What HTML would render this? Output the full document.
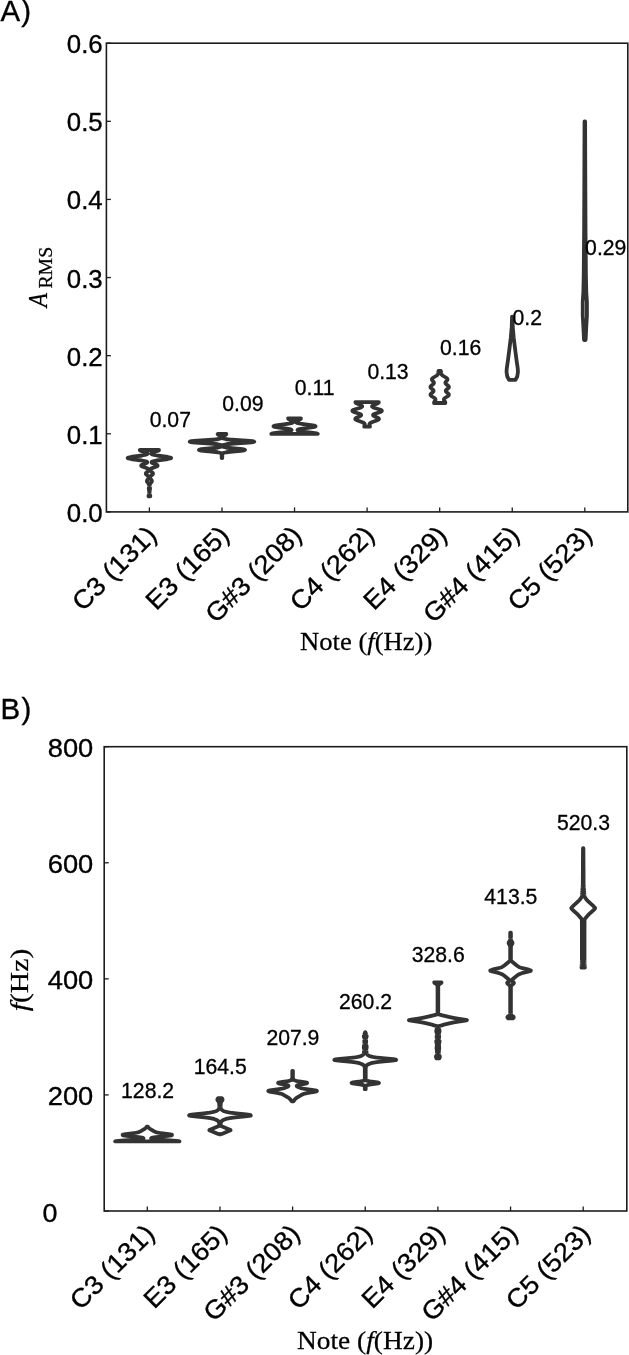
<!DOCTYPE html>
<html lang="en"><head><meta charset="utf-8"><title>Violin plots</title>
<style>
html,body{margin:0;padding:0;background:#fff;}
body{width:629px;height:1355px;position:relative;overflow:hidden;}
svg text{white-space:pre;}
</style></head><body>
<svg width="629" height="1355" viewBox="0 0 629 1355" style="position:absolute;left:0;top:0;filter:blur(0.4px)">
<rect width="100%" height="100%" fill="#fff"/>
<rect x="106.40" y="43.20" width="521.40" height="468.70" fill="none" stroke="#1c1c1c" stroke-width="1.6"/>
<line x1="106.40" y1="511.90" x2="110.90" y2="511.90" stroke="#1c1c1c" stroke-width="1.3"/>
<line x1="106.40" y1="433.78" x2="110.90" y2="433.78" stroke="#1c1c1c" stroke-width="1.3"/>
<line x1="106.40" y1="355.67" x2="110.90" y2="355.67" stroke="#1c1c1c" stroke-width="1.3"/>
<line x1="106.40" y1="277.55" x2="110.90" y2="277.55" stroke="#1c1c1c" stroke-width="1.3"/>
<line x1="106.40" y1="199.43" x2="110.90" y2="199.43" stroke="#1c1c1c" stroke-width="1.3"/>
<line x1="106.40" y1="121.32" x2="110.90" y2="121.32" stroke="#1c1c1c" stroke-width="1.3"/>
<line x1="106.40" y1="43.20" x2="110.90" y2="43.20" stroke="#1c1c1c" stroke-width="1.3"/>
<line x1="149.40" y1="511.90" x2="149.40" y2="507.40" stroke="#1c1c1c" stroke-width="1.3"/>
<line x1="221.97" y1="511.90" x2="221.97" y2="507.40" stroke="#1c1c1c" stroke-width="1.3"/>
<line x1="294.54" y1="511.90" x2="294.54" y2="507.40" stroke="#1c1c1c" stroke-width="1.3"/>
<line x1="367.11" y1="511.90" x2="367.11" y2="507.40" stroke="#1c1c1c" stroke-width="1.3"/>
<line x1="439.68" y1="511.90" x2="439.68" y2="507.40" stroke="#1c1c1c" stroke-width="1.3"/>
<line x1="512.25" y1="511.90" x2="512.25" y2="507.40" stroke="#1c1c1c" stroke-width="1.3"/>
<line x1="584.82" y1="511.90" x2="584.82" y2="507.40" stroke="#1c1c1c" stroke-width="1.3"/>
<rect x="104.20" y="746.70" width="522.60" height="464.30" fill="none" stroke="#1c1c1c" stroke-width="1.6"/>
<line x1="104.20" y1="1211.00" x2="108.70" y2="1211.00" stroke="#1c1c1c" stroke-width="1.3"/>
<line x1="104.20" y1="1094.92" x2="108.70" y2="1094.92" stroke="#1c1c1c" stroke-width="1.3"/>
<line x1="104.20" y1="978.85" x2="108.70" y2="978.85" stroke="#1c1c1c" stroke-width="1.3"/>
<line x1="104.20" y1="862.78" x2="108.70" y2="862.78" stroke="#1c1c1c" stroke-width="1.3"/>
<line x1="104.20" y1="746.70" x2="108.70" y2="746.70" stroke="#1c1c1c" stroke-width="1.3"/>
<line x1="147.30" y1="1211.00" x2="147.30" y2="1206.50" stroke="#1c1c1c" stroke-width="1.3"/>
<line x1="219.95" y1="1211.00" x2="219.95" y2="1206.50" stroke="#1c1c1c" stroke-width="1.3"/>
<line x1="292.60" y1="1211.00" x2="292.60" y2="1206.50" stroke="#1c1c1c" stroke-width="1.3"/>
<line x1="365.25" y1="1211.00" x2="365.25" y2="1206.50" stroke="#1c1c1c" stroke-width="1.3"/>
<line x1="437.90" y1="1211.00" x2="437.90" y2="1206.50" stroke="#1c1c1c" stroke-width="1.3"/>
<line x1="510.55" y1="1211.00" x2="510.55" y2="1206.50" stroke="#1c1c1c" stroke-width="1.3"/>
<line x1="583.20" y1="1211.00" x2="583.20" y2="1206.50" stroke="#1c1c1c" stroke-width="1.3"/>
<text transform="translate(102.70 521.90) scale(0.9670 1)" font-family="'Liberation Sans', Arial, sans-serif" font-size="26.70" text-anchor="end" fill="#000" stroke="#000" stroke-width="0.35">0.0</text>
<text transform="translate(102.70 443.78) scale(0.9670 1)" font-family="'Liberation Sans', Arial, sans-serif" font-size="26.70" text-anchor="end" fill="#000" stroke="#000" stroke-width="0.35">0.1</text>
<text transform="translate(102.70 365.67) scale(0.9670 1)" font-family="'Liberation Sans', Arial, sans-serif" font-size="26.70" text-anchor="end" fill="#000" stroke="#000" stroke-width="0.35">0.2</text>
<text transform="translate(102.70 287.55) scale(0.9670 1)" font-family="'Liberation Sans', Arial, sans-serif" font-size="26.70" text-anchor="end" fill="#000" stroke="#000" stroke-width="0.35">0.3</text>
<text transform="translate(102.70 209.43) scale(0.9670 1)" font-family="'Liberation Sans', Arial, sans-serif" font-size="26.70" text-anchor="end" fill="#000" stroke="#000" stroke-width="0.35">0.4</text>
<text transform="translate(102.70 131.32) scale(0.9670 1)" font-family="'Liberation Sans', Arial, sans-serif" font-size="26.70" text-anchor="end" fill="#000" stroke="#000" stroke-width="0.35">0.5</text>
<text transform="translate(102.70 53.20) scale(0.9670 1)" font-family="'Liberation Sans', Arial, sans-serif" font-size="26.70" text-anchor="end" fill="#000" stroke="#000" stroke-width="0.35">0.6</text>
<text transform="translate(93.30 1105.33) scale(1.0350 1)" font-family="'Liberation Sans', Arial, sans-serif" font-size="26.40" text-anchor="end" fill="#000" stroke="#000" stroke-width="0.35">200</text>
<text transform="translate(93.30 989.25) scale(1.0350 1)" font-family="'Liberation Sans', Arial, sans-serif" font-size="26.40" text-anchor="end" fill="#000" stroke="#000" stroke-width="0.35">400</text>
<text transform="translate(93.30 873.18) scale(1.0350 1)" font-family="'Liberation Sans', Arial, sans-serif" font-size="26.40" text-anchor="end" fill="#000" stroke="#000" stroke-width="0.35">600</text>
<text transform="translate(93.30 757.10) scale(1.0350 1)" font-family="'Liberation Sans', Arial, sans-serif" font-size="26.40" text-anchor="end" fill="#000" stroke="#000" stroke-width="0.35">800</text>
<text transform="translate(42.40 1221.80) scale(1.0200 1)" font-family="'Liberation Sans', Arial, sans-serif" font-size="26.40" text-anchor="start" fill="#000" stroke="#000" stroke-width="0.35">0</text>
<text transform="translate(0.60 21.30)" font-family="'Liberation Sans', Arial, sans-serif" font-size="29.40" text-anchor="start" fill="#000" stroke="#000" stroke-width="0.35" letter-spacing="1.00">A)</text>
<text transform="translate(0.50 718.60)" font-family="'Liberation Sans', Arial, sans-serif" font-size="29.40" text-anchor="start" fill="#000" stroke="#000" stroke-width="0.35" letter-spacing="1.40">B)</text>
<text transform="translate(158.20 536.80) rotate(-45) scale(1.0560 1)" font-family="'Liberation Sans', Arial, sans-serif" font-size="26.00" text-anchor="end" fill="#000" stroke="#000" stroke-width="0.35">C3 (131)</text>
<text transform="translate(230.77 536.80) rotate(-45) scale(1.0560 1)" font-family="'Liberation Sans', Arial, sans-serif" font-size="26.00" text-anchor="end" fill="#000" stroke="#000" stroke-width="0.35">E3 (165)</text>
<text transform="translate(303.34 536.80) rotate(-45) scale(1.0560 1)" font-family="'Liberation Sans', Arial, sans-serif" font-size="26.00" text-anchor="end" fill="#000" stroke="#000" stroke-width="0.35">G#3 (208)</text>
<text transform="translate(375.91 536.80) rotate(-45) scale(1.0560 1)" font-family="'Liberation Sans', Arial, sans-serif" font-size="26.00" text-anchor="end" fill="#000" stroke="#000" stroke-width="0.35">C4 (262)</text>
<text transform="translate(448.48 536.80) rotate(-45) scale(1.0560 1)" font-family="'Liberation Sans', Arial, sans-serif" font-size="26.00" text-anchor="end" fill="#000" stroke="#000" stroke-width="0.35">E4 (329)</text>
<text transform="translate(521.05 536.80) rotate(-45) scale(1.0560 1)" font-family="'Liberation Sans', Arial, sans-serif" font-size="26.00" text-anchor="end" fill="#000" stroke="#000" stroke-width="0.35">G#4 (415)</text>
<text transform="translate(593.62 536.80) rotate(-45) scale(1.0560 1)" font-family="'Liberation Sans', Arial, sans-serif" font-size="26.00" text-anchor="end" fill="#000" stroke="#000" stroke-width="0.35">C5 (523)</text>
<text transform="translate(156.10 1235.40) rotate(-45) scale(1.0560 1)" font-family="'Liberation Sans', Arial, sans-serif" font-size="26.00" text-anchor="end" fill="#000" stroke="#000" stroke-width="0.35">C3 (131)</text>
<text transform="translate(228.75 1235.40) rotate(-45) scale(1.0560 1)" font-family="'Liberation Sans', Arial, sans-serif" font-size="26.00" text-anchor="end" fill="#000" stroke="#000" stroke-width="0.35">E3 (165)</text>
<text transform="translate(301.40 1235.40) rotate(-45) scale(1.0560 1)" font-family="'Liberation Sans', Arial, sans-serif" font-size="26.00" text-anchor="end" fill="#000" stroke="#000" stroke-width="0.35">G#3 (208)</text>
<text transform="translate(374.05 1235.40) rotate(-45) scale(1.0560 1)" font-family="'Liberation Sans', Arial, sans-serif" font-size="26.00" text-anchor="end" fill="#000" stroke="#000" stroke-width="0.35">C4 (262)</text>
<text transform="translate(446.70 1235.40) rotate(-45) scale(1.0560 1)" font-family="'Liberation Sans', Arial, sans-serif" font-size="26.00" text-anchor="end" fill="#000" stroke="#000" stroke-width="0.35">E4 (329)</text>
<text transform="translate(519.35 1235.40) rotate(-45) scale(1.0560 1)" font-family="'Liberation Sans', Arial, sans-serif" font-size="26.00" text-anchor="end" fill="#000" stroke="#000" stroke-width="0.35">G#4 (415)</text>
<text transform="translate(592.00 1235.40) rotate(-45) scale(1.0560 1)" font-family="'Liberation Sans', Arial, sans-serif" font-size="26.00" text-anchor="end" fill="#000" stroke="#000" stroke-width="0.35">C5 (523)</text>
<text transform="translate(366.20 650.40) scale(1.0400 1)" font-family="'Liberation Serif', 'Times New Roman', serif" font-size="25.60" text-anchor="middle" fill="#000" stroke="#000" stroke-width="0.25">Note (<tspan font-style="italic">f</tspan>(Hz))</text>
<text transform="translate(365.10 1348.50) scale(1.0700 1)" font-family="'Liberation Serif', 'Times New Roman', serif" font-size="25.60" text-anchor="middle" fill="#000" stroke="#000" stroke-width="0.25">Note (<tspan font-style="italic">f</tspan>(Hz))</text>
<text transform="translate(47.10 307.20) rotate(-90) scale(0.8600 1)" font-family="'Liberation Serif', 'Times New Roman', serif" font-size="27.00" text-anchor="start" fill="#000" stroke="#000" stroke-width="0.25"><tspan font-style="italic">A</tspan></text>
<text transform="translate(51.80 288.60) rotate(-90) scale(1.0400 1)" font-family="'Liberation Serif', 'Times New Roman', serif" font-size="19.00" text-anchor="start" fill="#000" stroke="#000" stroke-width="0.25">RMS</text>
<text transform="translate(27.60 1011.30) rotate(-90) scale(1.1600 1)" font-family="'Liberation Serif', 'Times New Roman', serif" font-size="25.60" text-anchor="start" fill="#000" stroke="#000" stroke-width="0.25"><tspan font-style="italic">f</tspan>(Hz)</text>
<path d="M159.00 450.00 L158.90 450.25 L158.59 450.50 L158.11 450.75 L157.48 451.00 L156.73 451.25 L155.92 451.50 L155.08 451.75 L154.25 452.00 L153.47 452.25 L152.77 452.50 L152.18 452.75 L151.71 453.00 L151.38 453.25 L151.21 453.50 L151.20 453.75 L151.37 454.00 L151.74 454.25 L152.31 454.50 L153.10 454.75 L154.12 455.00 L155.37 455.25 L156.84 455.50 L158.51 455.75 L160.33 456.00 L162.24 456.25 L164.18 456.50 L166.04 456.75 L167.74 457.00 L169.18 457.25 L170.28 457.50 L170.97 457.75 L171.20 458.00 L170.97 458.25 L170.28 458.50 L169.18 458.75 L167.74 459.00 L166.04 459.25 L164.18 459.50 L162.26 459.75 L160.35 460.00 L158.54 460.25 L156.88 460.50 L155.43 460.75 L154.21 461.00 L153.22 461.25 L152.47 461.50 L151.94 461.75 L151.64 462.00 L151.53 462.25 L151.61 462.50 L151.85 462.75 L152.23 463.00 L152.74 463.25 L153.34 463.50 L154.01 463.75 L154.71 464.00 L155.41 464.25 L156.07 464.50 L156.64 464.75 L157.11 465.00 L157.43 465.25 L157.59 465.50 L157.57 465.75 L157.38 466.00 L157.02 466.25 L156.53 466.50 L155.92 466.75 L155.24 467.00 L154.52 467.25 L153.80 467.50 L153.10 467.75 L152.44 468.00 L151.86 468.25 L151.35 468.50 L150.93 468.75 L150.60 469.00 L150.35 469.25 L150.19 469.50 L150.09 469.75 L150.07 470.00 L150.11 470.25 L150.21 470.50 L150.37 470.75 L150.57 471.00 L150.82 471.25 L151.10 471.50 L151.40 471.75 L151.72 472.00 L152.03 472.25 L152.32 472.50 L152.58 472.75 L152.78 473.00 L152.92 473.25 L152.99 473.50 L152.99 473.75 L152.90 474.00 L152.75 474.25 L152.53 474.50 L152.27 474.75 L151.97 475.00 L151.66 475.25 L151.34 475.50 L151.04 475.75 L150.77 476.00 L150.53 476.25 L150.32 476.50 L150.17 476.75 L150.06 477.00 L150.00 477.25 L149.98 477.50 L150.01 477.75 L150.09 478.00 L150.20 478.25 L150.34 478.50 L150.52 478.75 L150.71 479.00 L150.91 479.25 L151.12 479.50 L151.31 479.75 L151.49 480.00 L151.63 480.25 L151.74 480.50 L151.79 480.75 L151.95 481.00 L151.90 481.25 L151.81 481.50 L151.67 481.75 L151.50 482.00 L151.30 482.25 L151.09 482.50 L150.88 482.75 L150.67 483.00 L150.47 483.25 L150.30 483.50 L150.14 483.75 L150.01 484.00 L149.90 484.25 L149.81 484.50 L149.75 484.75 L149.70 485.00 L149.67 485.25 L149.66 485.50 L149.66 485.75 L149.68 486.00 L149.70 486.25 L149.74 486.50 L149.79 486.75 L149.84 487.00 L149.89 487.25 L149.94 487.50 L149.98 487.75 L150.02 488.00 L150.04 488.25 L150.05 488.50 L150.04 488.75 L150.02 489.00 L149.98 489.25 L149.94 489.50 L149.89 489.75 L149.83 490.00 L149.78 490.25 L149.73 490.50 L149.69 490.75 L149.65 491.00 L149.62 491.25 L149.60 491.50 L149.58 491.75 L149.57 492.00 L149.57 492.25 L149.56 492.50 L149.56 492.75 L149.57 493.00 L149.58 493.25 L149.59 493.50 L149.62 493.75 L149.66 494.00 L149.71 494.25 L149.78 494.50 L149.86 494.75 L149.96 495.00 L150.06 495.25 L150.15 495.50 L150.24 495.75 L150.31 496.00 L150.34 496.25 L148.46 496.25 L148.49 496.00 L148.56 495.75 L148.65 495.50 L148.74 495.25 L148.84 495.00 L148.94 494.75 L149.02 494.50 L149.09 494.25 L149.14 494.00 L149.18 493.75 L149.21 493.50 L149.22 493.25 L149.23 493.00 L149.24 492.75 L149.24 492.50 L149.23 492.25 L149.23 492.00 L149.22 491.75 L149.20 491.50 L149.18 491.25 L149.15 491.00 L149.11 490.75 L149.07 490.50 L149.02 490.25 L148.97 490.00 L148.91 489.75 L148.86 489.50 L148.82 489.25 L148.78 489.00 L148.76 488.75 L148.75 488.50 L148.76 488.25 L148.78 488.00 L148.82 487.75 L148.86 487.50 L148.91 487.25 L148.96 487.00 L149.01 486.75 L149.06 486.50 L149.10 486.25 L149.12 486.00 L149.14 485.75 L149.14 485.50 L149.13 485.25 L149.10 485.00 L149.05 484.75 L148.99 484.50 L148.90 484.25 L148.79 484.00 L148.66 483.75 L148.50 483.50 L148.33 483.25 L148.13 483.00 L147.92 482.75 L147.71 482.50 L147.50 482.25 L147.30 482.00 L147.13 481.75 L146.99 481.50 L146.90 481.25 L146.85 481.00 L147.01 480.75 L147.06 480.50 L147.17 480.25 L147.31 480.00 L147.49 479.75 L147.68 479.50 L147.89 479.25 L148.09 479.00 L148.28 478.75 L148.46 478.50 L148.60 478.25 L148.71 478.00 L148.79 477.75 L148.82 477.50 L148.80 477.25 L148.74 477.00 L148.63 476.75 L148.48 476.50 L148.27 476.25 L148.03 476.00 L147.76 475.75 L147.46 475.50 L147.14 475.25 L146.83 475.00 L146.53 474.75 L146.27 474.50 L146.05 474.25 L145.90 474.00 L145.81 473.75 L145.81 473.50 L145.88 473.25 L146.02 473.00 L146.22 472.75 L146.48 472.50 L146.77 472.25 L147.08 472.00 L147.40 471.75 L147.70 471.50 L147.98 471.25 L148.23 471.00 L148.43 470.75 L148.59 470.50 L148.69 470.25 L148.73 470.00 L148.71 469.75 L148.61 469.50 L148.45 469.25 L148.20 469.00 L147.87 468.75 L147.45 468.50 L146.94 468.25 L146.36 468.00 L145.70 467.75 L145.00 467.50 L144.28 467.25 L143.56 467.00 L142.88 466.75 L142.27 466.50 L141.78 466.25 L141.42 466.00 L141.23 465.75 L141.21 465.50 L141.37 465.25 L141.69 465.00 L142.16 464.75 L142.73 464.50 L143.39 464.25 L144.09 464.00 L144.79 463.75 L145.46 463.50 L146.06 463.25 L146.57 463.00 L146.95 462.75 L147.19 462.50 L147.27 462.25 L147.16 462.00 L146.86 461.75 L146.33 461.50 L145.58 461.25 L144.59 461.00 L143.37 460.75 L141.92 460.50 L140.26 460.25 L138.45 460.00 L136.54 459.75 L134.62 459.50 L132.76 459.25 L131.06 459.00 L129.62 458.75 L128.52 458.50 L127.83 458.25 L127.60 458.00 L127.83 457.75 L128.52 457.50 L129.62 457.25 L131.06 457.00 L132.76 456.75 L134.62 456.50 L136.56 456.25 L138.47 456.00 L140.29 455.75 L141.96 455.50 L143.43 455.25 L144.68 455.00 L145.70 454.75 L146.49 454.50 L147.06 454.25 L147.43 454.00 L147.60 453.75 L147.59 453.50 L147.42 453.25 L147.09 453.00 L146.62 452.75 L146.03 452.50 L145.33 452.25 L144.55 452.00 L143.72 451.75 L142.88 451.50 L142.07 451.25 L141.32 451.00 L140.69 450.75 L140.21 450.50 L139.90 450.25 L139.80 450.00 Z" fill="#fff" stroke="#333333" stroke-width="3.80" stroke-linejoin="round"/>
<path d="M226.37 434.00 L226.29 434.25 L226.05 434.50 L225.68 434.75 L225.21 435.00 L224.70 435.25 L224.18 435.50 L223.70 435.75 L223.27 436.00 L222.91 436.25 L222.63 436.50 L222.43 436.75 L222.29 437.00 L222.22 437.25 L222.22 437.50 L222.31 437.75 L222.50 438.00 L222.84 438.25 L223.40 438.50 L224.24 438.75 L225.46 439.00 L227.14 439.25 L229.34 439.50 L232.09 439.75 L235.34 440.00 L238.97 440.25 L242.78 440.50 L246.49 440.75 L249.78 441.00 L252.33 441.25 L253.88 441.50 L254.25 441.75 L253.39 442.00 L251.42 442.25 L248.54 442.50 L245.04 442.75 L241.25 443.00 L237.49 443.25 L233.99 443.50 L230.93 443.75 L228.40 444.00 L226.41 444.25 L224.93 444.50 L223.87 444.75 L223.15 445.00 L222.69 445.25 L222.43 445.50 L222.31 445.75 L222.30 446.00 L222.42 446.25 L222.67 446.50 L223.09 446.75 L223.73 447.00 L224.65 447.25 L225.90 447.50 L227.53 447.75 L229.55 448.00 L231.90 448.25 L234.51 448.50 L237.20 448.75 L240.08 449.00 L242.31 449.25 L243.98 449.50 L244.91 449.75 L245.00 450.00 L244.23 450.25 L242.70 450.50 L240.56 450.75 L238.03 451.00 L235.34 451.25 L232.71 451.50 L230.29 451.75 L228.21 452.00 L226.50 452.25 L225.17 452.50 L224.18 452.75 L223.48 453.00 L223.01 453.25 L222.71 453.50 L222.52 453.75 L222.40 454.00 L222.34 454.25 L222.31 454.50 L222.29 454.75 L222.28 455.00 L222.27 455.25 L222.27 455.50 L222.27 455.75 L222.27 456.00 L222.27 456.25 L222.27 456.50 L222.27 456.75 L222.27 457.00 L222.27 457.25 L222.27 457.50 L222.27 457.75 L222.27 458.00 L221.67 458.00 L221.67 457.75 L221.67 457.50 L221.67 457.25 L221.67 457.00 L221.67 456.75 L221.67 456.50 L221.67 456.25 L221.67 456.00 L221.67 455.75 L221.67 455.50 L221.67 455.25 L221.66 455.00 L221.65 454.75 L221.63 454.50 L221.60 454.25 L221.54 454.00 L221.42 453.75 L221.23 453.50 L220.93 453.25 L220.46 453.00 L219.76 452.75 L218.77 452.50 L217.44 452.25 L215.73 452.00 L213.65 451.75 L211.23 451.50 L208.60 451.25 L205.91 451.00 L203.38 450.75 L201.24 450.50 L199.71 450.25 L198.94 450.00 L199.03 449.75 L199.96 449.50 L201.63 449.25 L203.86 449.00 L206.74 448.75 L209.43 448.50 L212.04 448.25 L214.39 448.00 L216.41 447.75 L218.04 447.50 L219.29 447.25 L220.21 447.00 L220.85 446.75 L221.27 446.50 L221.52 446.25 L221.64 446.00 L221.63 445.75 L221.51 445.50 L221.25 445.25 L220.79 445.00 L220.07 444.75 L219.01 444.50 L217.53 444.25 L215.54 444.00 L213.01 443.75 L209.95 443.50 L206.45 443.25 L202.69 443.00 L198.90 442.75 L195.40 442.50 L192.52 442.25 L190.55 442.00 L189.69 441.75 L190.06 441.50 L191.61 441.25 L194.16 441.00 L197.45 440.75 L201.16 440.50 L204.97 440.25 L208.60 440.00 L211.85 439.75 L214.60 439.50 L216.80 439.25 L218.48 439.00 L219.70 438.75 L220.54 438.50 L221.10 438.25 L221.44 438.00 L221.63 437.75 L221.72 437.50 L221.72 437.25 L221.65 437.00 L221.51 436.75 L221.31 436.50 L221.03 436.25 L220.67 436.00 L220.24 435.75 L219.76 435.50 L219.24 435.25 L218.73 435.00 L218.26 434.75 L217.89 434.50 L217.65 434.25 L217.57 434.00 Z" fill="#fff" stroke="#333333" stroke-width="3.80" stroke-linejoin="round"/>
<path d="M300.94 418.40 L300.87 418.65 L300.65 418.90 L300.31 419.15 L299.87 419.40 L299.35 419.65 L298.79 419.90 L298.21 420.15 L297.65 420.40 L297.13 420.65 L296.67 420.90 L296.30 421.15 L296.02 421.40 L295.86 421.65 L295.82 421.90 L295.92 422.15 L296.17 422.40 L296.60 422.65 L297.22 422.90 L298.05 423.15 L299.11 423.40 L300.39 423.65 L301.89 423.90 L303.58 424.15 L305.42 424.40 L307.34 424.65 L309.26 424.90 L311.09 425.15 L312.72 425.40 L314.07 425.65 L315.03 425.90 L315.55 426.15 L315.60 426.40 L315.17 426.65 L314.29 426.90 L313.02 427.15 L311.44 427.40 L309.65 427.65 L307.75 427.90 L305.84 428.15 L304.00 428.40 L302.31 428.65 L300.83 428.90 L299.60 429.15 L298.63 429.40 L297.95 429.65 L297.56 429.90 L297.46 430.15 L297.66 430.40 L298.16 430.65 L298.96 430.90 L300.06 431.15 L301.45 431.40 L303.10 431.65 L304.97 431.90 L307.01 432.15 L309.12 432.40 L311.23 432.65 L313.20 432.90 L314.95 433.15 L316.35 433.40 L317.32 433.65 L317.80 433.90 L271.28 433.90 L271.76 433.65 L272.73 433.40 L274.13 433.15 L275.88 432.90 L277.85 432.65 L279.96 432.40 L282.07 432.15 L284.11 431.90 L285.98 431.65 L287.63 431.40 L289.02 431.15 L290.12 430.90 L290.92 430.65 L291.42 430.40 L291.62 430.15 L291.52 429.90 L291.13 429.65 L290.45 429.40 L289.48 429.15 L288.25 428.90 L286.77 428.65 L285.08 428.40 L283.24 428.15 L281.33 427.90 L279.43 427.65 L277.64 427.40 L276.06 427.15 L274.79 426.90 L273.91 426.65 L273.48 426.40 L273.53 426.15 L274.05 425.90 L275.01 425.65 L276.36 425.40 L277.99 425.15 L279.82 424.90 L281.74 424.65 L283.66 424.40 L285.50 424.15 L287.19 423.90 L288.69 423.65 L289.97 423.40 L291.03 423.15 L291.86 422.90 L292.48 422.65 L292.91 422.40 L293.16 422.15 L293.26 421.90 L293.22 421.65 L293.06 421.40 L292.78 421.15 L292.41 420.90 L291.95 420.65 L291.43 420.40 L290.87 420.15 L290.29 419.90 L289.73 419.65 L289.21 419.40 L288.77 419.15 L288.43 418.90 L288.21 418.65 L288.14 418.40 Z" fill="#fff" stroke="#333333" stroke-width="3.80" stroke-linejoin="round"/>
<path d="M378.83 402.20 L378.77 402.45 L378.59 402.70 L378.28 402.95 L377.88 403.20 L377.38 403.45 L376.81 403.70 L376.19 403.95 L375.54 404.20 L374.89 404.45 L374.26 404.70 L373.67 404.95 L373.15 405.20 L372.71 405.45 L372.36 405.70 L372.13 405.95 L372.02 406.20 L372.04 406.45 L372.19 406.70 L372.47 406.95 L372.87 407.20 L373.40 407.45 L374.02 407.70 L374.74 407.95 L375.53 408.20 L376.37 408.45 L377.23 408.70 L378.08 408.95 L378.91 409.20 L379.68 409.45 L380.36 409.70 L380.94 409.95 L381.39 410.20 L381.69 410.45 L381.84 410.70 L381.83 410.95 L381.66 411.20 L381.34 411.45 L380.88 411.70 L380.30 411.95 L379.62 412.20 L378.87 412.45 L378.08 412.70 L377.26 412.95 L376.46 413.20 L375.70 413.45 L375.00 413.70 L374.38 413.95 L373.87 414.20 L373.47 414.45 L373.21 414.70 L373.07 414.95 L373.07 415.20 L373.20 415.45 L373.45 415.70 L373.81 415.95 L374.26 416.20 L374.78 416.45 L375.35 416.70 L375.95 416.95 L376.55 417.20 L377.13 417.45 L377.67 417.70 L378.13 417.95 L378.50 418.20 L378.77 418.45 L378.93 418.70 L378.95 418.95 L378.85 419.20 L378.63 419.45 L378.28 419.70 L377.83 419.95 L377.29 420.20 L376.67 420.45 L376.00 420.70 L375.29 420.95 L374.57 421.20 L373.85 421.45 L373.15 421.70 L372.50 421.95 L371.89 422.20 L371.35 422.45 L370.87 422.70 L370.46 422.95 L370.13 423.20 L369.87 423.45 L369.68 423.70 L369.56 423.95 L369.48 424.20 L369.46 424.45 L369.48 424.70 L369.52 424.95 L369.59 425.20 L369.67 425.45 L369.75 425.70 L369.82 425.95 L369.88 426.20 L369.93 426.45 L369.95 426.70 L364.27 426.70 L364.29 426.45 L364.34 426.20 L364.40 425.95 L364.47 425.70 L364.55 425.45 L364.63 425.20 L364.70 424.95 L364.74 424.70 L364.76 424.45 L364.74 424.20 L364.66 423.95 L364.54 423.70 L364.35 423.45 L364.09 423.20 L363.76 422.95 L363.35 422.70 L362.87 422.45 L362.33 422.20 L361.72 421.95 L361.07 421.70 L360.37 421.45 L359.65 421.20 L358.93 420.95 L358.22 420.70 L357.55 420.45 L356.93 420.20 L356.39 419.95 L355.94 419.70 L355.59 419.45 L355.37 419.20 L355.27 418.95 L355.29 418.70 L355.45 418.45 L355.72 418.20 L356.09 417.95 L356.55 417.70 L357.09 417.45 L357.67 417.20 L358.27 416.95 L358.87 416.70 L359.44 416.45 L359.96 416.20 L360.41 415.95 L360.77 415.70 L361.02 415.45 L361.15 415.20 L361.15 414.95 L361.01 414.70 L360.75 414.45 L360.35 414.20 L359.84 413.95 L359.22 413.70 L358.52 413.45 L357.76 413.20 L356.96 412.95 L356.14 412.70 L355.35 412.45 L354.60 412.20 L353.92 411.95 L353.34 411.70 L352.88 411.45 L352.56 411.20 L352.39 410.95 L352.38 410.70 L352.53 410.45 L352.83 410.20 L353.28 409.95 L353.86 409.70 L354.54 409.45 L355.31 409.20 L356.14 408.95 L356.99 408.70 L357.85 408.45 L358.69 408.20 L359.48 407.95 L360.20 407.70 L360.82 407.45 L361.35 407.20 L361.75 406.95 L362.03 406.70 L362.18 406.45 L362.20 406.20 L362.09 405.95 L361.86 405.70 L361.51 405.45 L361.07 405.20 L360.55 404.95 L359.96 404.70 L359.33 404.45 L358.68 404.20 L358.03 403.95 L357.41 403.70 L356.84 403.45 L356.34 403.20 L355.94 402.95 L355.63 402.70 L355.45 402.45 L355.39 402.20 Z" fill="#fff" stroke="#333333" stroke-width="3.80" stroke-linejoin="round"/>
<path d="M440.94 371.00 L440.95 371.25 L440.96 371.50 L440.96 371.75 L440.97 372.00 L440.97 372.25 L440.98 372.50 L441.00 372.75 L441.03 373.00 L441.08 373.25 L441.14 373.50 L441.23 373.75 L441.34 374.00 L441.48 374.25 L441.66 374.50 L441.86 374.75 L442.10 375.00 L442.38 375.25 L442.68 375.50 L443.02 375.75 L443.38 376.00 L443.77 376.25 L444.17 376.50 L444.58 376.75 L444.99 377.00 L445.40 377.25 L445.79 377.50 L446.15 377.75 L446.48 378.00 L446.77 378.25 L447.02 378.50 L447.21 378.75 L447.34 379.00 L447.41 379.25 L447.43 379.50 L447.39 379.75 L447.30 380.00 L447.16 380.25 L446.99 380.50 L446.78 380.75 L446.56 381.00 L446.33 381.25 L446.11 381.50 L445.90 381.75 L445.72 382.00 L445.58 382.25 L445.47 382.50 L445.42 382.75 L445.43 383.00 L445.49 383.25 L445.61 383.50 L445.78 383.75 L446.00 384.00 L446.26 384.25 L446.56 384.50 L446.88 384.75 L447.21 385.00 L447.54 385.25 L447.86 385.50 L448.15 385.75 L448.41 386.00 L448.62 386.25 L448.78 386.50 L448.88 386.75 L448.91 387.00 L448.88 387.25 L448.79 387.50 L448.64 387.75 L448.43 388.00 L448.18 388.25 L447.90 388.50 L447.59 388.75 L447.28 389.00 L446.97 389.25 L446.67 389.50 L446.40 389.75 L446.17 390.00 L445.99 390.25 L445.86 390.50 L445.79 390.75 L445.78 391.00 L445.84 391.25 L445.95 391.50 L446.13 391.75 L446.35 392.00 L446.61 392.25 L446.90 392.50 L447.21 392.75 L447.52 393.00 L447.83 393.25 L448.11 393.50 L448.36 393.75 L448.57 394.00 L448.73 394.25 L448.82 394.50 L448.85 394.75 L448.81 395.00 L448.70 395.25 L448.53 395.50 L448.29 395.75 L448.00 396.00 L447.67 396.25 L447.30 396.50 L446.90 396.75 L446.50 397.00 L446.09 397.25 L445.69 397.50 L445.31 397.75 L444.97 398.00 L444.66 398.25 L444.40 398.50 L444.19 398.75 L444.04 399.00 L443.94 399.25 L443.89 399.50 L443.89 399.75 L443.94 400.00 L444.03 400.25 L444.16 400.50 L444.31 400.75 L444.48 401.00 L444.65 401.25 L444.82 401.50 L444.98 401.75 L445.12 402.00 L445.23 402.25 L445.31 402.50 L445.36 402.75 L445.36 403.00 L434.00 403.00 L434.00 402.75 L434.05 402.50 L434.13 402.25 L434.24 402.00 L434.38 401.75 L434.54 401.50 L434.71 401.25 L434.88 401.00 L435.05 400.75 L435.20 400.50 L435.33 400.25 L435.42 400.00 L435.47 399.75 L435.47 399.50 L435.42 399.25 L435.32 399.00 L435.17 398.75 L434.96 398.50 L434.70 398.25 L434.39 398.00 L434.05 397.75 L433.67 397.50 L433.27 397.25 L432.86 397.00 L432.46 396.75 L432.06 396.50 L431.69 396.25 L431.36 396.00 L431.07 395.75 L430.83 395.50 L430.66 395.25 L430.55 395.00 L430.51 394.75 L430.54 394.50 L430.63 394.25 L430.79 394.00 L431.00 393.75 L431.25 393.50 L431.53 393.25 L431.84 393.00 L432.15 392.75 L432.46 392.50 L432.75 392.25 L433.01 392.00 L433.23 391.75 L433.41 391.50 L433.52 391.25 L433.58 391.00 L433.57 390.75 L433.50 390.50 L433.37 390.25 L433.19 390.00 L432.96 389.75 L432.69 389.50 L432.39 389.25 L432.08 389.00 L431.77 388.75 L431.46 388.50 L431.18 388.25 L430.93 388.00 L430.72 387.75 L430.57 387.50 L430.48 387.25 L430.45 387.00 L430.48 386.75 L430.58 386.50 L430.74 386.25 L430.95 386.00 L431.21 385.75 L431.50 385.50 L431.82 385.25 L432.15 385.00 L432.48 384.75 L432.80 384.50 L433.10 384.25 L433.36 384.00 L433.58 383.75 L433.75 383.50 L433.87 383.25 L433.93 383.00 L433.94 382.75 L433.89 382.50 L433.78 382.25 L433.64 382.00 L433.46 381.75 L433.25 381.50 L433.03 381.25 L432.80 381.00 L432.58 380.75 L432.37 380.50 L432.20 380.25 L432.06 380.00 L431.97 379.75 L431.93 379.50 L431.95 379.25 L432.02 379.00 L432.15 378.75 L432.34 378.50 L432.59 378.25 L432.88 378.00 L433.21 377.75 L433.57 377.50 L433.96 377.25 L434.37 377.00 L434.78 376.75 L435.19 376.50 L435.59 376.25 L435.98 376.00 L436.34 375.75 L436.68 375.50 L436.98 375.25 L437.26 375.00 L437.50 374.75 L437.70 374.50 L437.88 374.25 L438.02 374.00 L438.13 373.75 L438.22 373.50 L438.28 373.25 L438.33 373.00 L438.36 372.75 L438.38 372.50 L438.39 372.25 L438.39 372.00 L438.40 371.75 L438.40 371.50 L438.41 371.25 L438.42 371.00 Z" fill="#fff" stroke="#333333" stroke-width="3.80" stroke-linejoin="round"/>
<path d="M512.45 316.60 L512.75 327.00 L513.75 338.00 L515.15 349.50 L516.65 361.00 L517.75 368.50 L517.95 372.00 L517.25 376.50 L515.45 379.80 L509.05 379.80 L507.25 376.50 L506.55 372.00 L506.75 368.50 L507.85 361.00 L509.35 349.50 L510.75 338.00 L511.75 327.00 L512.05 316.60 Z" fill="#fff" stroke="#333333" stroke-width="3.80" stroke-linejoin="round"/>
<path d="M585.12 121.50 L585.27 170.00 L585.52 230.00 L585.92 275.00 L586.32 293.00 L586.92 302.00 L586.92 316.00 L586.42 324.00 L586.02 332.00 L585.62 340.00 L584.02 340.00 L583.62 332.00 L583.22 324.00 L582.72 316.00 L582.72 302.00 L583.32 293.00 L583.72 275.00 L584.12 230.00 L584.37 170.00 L584.52 121.50 Z" fill="#fff" stroke="#333333" stroke-width="3.80" stroke-linejoin="round"/>
<path d="M147.82 1126.60 L147.95 1126.85 L148.11 1127.10 L148.29 1127.35 L148.51 1127.60 L148.76 1127.85 L149.04 1128.10 L149.35 1128.35 L149.68 1128.60 L150.05 1128.85 L150.43 1129.10 L150.84 1129.35 L151.25 1129.60 L151.67 1129.85 L152.09 1130.10 L152.50 1130.35 L152.91 1130.60 L153.31 1130.85 L153.73 1131.10 L154.17 1131.35 L154.67 1131.60 L155.26 1131.85 L155.99 1132.10 L156.90 1132.35 L158.03 1132.60 L159.40 1132.85 L161.01 1133.10 L162.83 1133.35 L164.78 1133.60 L166.76 1133.85 L168.62 1134.10 L170.21 1134.35 L171.37 1134.60 L171.97 1134.85 L171.92 1135.10 L171.21 1135.35 L169.87 1135.60 L167.99 1135.85 L165.71 1136.10 L163.21 1136.35 L160.66 1136.60 L158.21 1136.85 L156.00 1137.10 L154.12 1137.35 L152.65 1137.60 L151.64 1137.85 L151.11 1138.10 L151.10 1138.35 L151.63 1138.60 L152.73 1138.85 L154.42 1139.10 L156.69 1139.35 L159.50 1139.60 L162.75 1139.85 L166.28 1140.10 L169.88 1140.35 L173.26 1140.60 L176.17 1140.85 L178.32 1141.10 L179.50 1141.35 L115.10 1141.35 L116.28 1141.10 L118.43 1140.85 L121.34 1140.60 L124.72 1140.35 L128.32 1140.10 L131.85 1139.85 L135.10 1139.60 L137.91 1139.35 L140.18 1139.10 L141.87 1138.85 L142.97 1138.60 L143.50 1138.35 L143.49 1138.10 L142.96 1137.85 L141.95 1137.60 L140.48 1137.35 L138.60 1137.10 L136.39 1136.85 L133.94 1136.60 L131.39 1136.35 L128.89 1136.10 L126.61 1135.85 L124.73 1135.60 L123.39 1135.35 L122.68 1135.10 L122.63 1134.85 L123.23 1134.60 L124.39 1134.35 L125.98 1134.10 L127.84 1133.85 L129.82 1133.60 L131.77 1133.35 L133.59 1133.10 L135.20 1132.85 L136.57 1132.60 L137.70 1132.35 L138.61 1132.10 L139.34 1131.85 L139.93 1131.60 L140.43 1131.35 L140.87 1131.10 L141.29 1130.85 L141.69 1130.60 L142.10 1130.35 L142.51 1130.10 L142.93 1129.85 L143.35 1129.60 L143.76 1129.35 L144.17 1129.10 L144.55 1128.85 L144.92 1128.60 L145.25 1128.35 L145.56 1128.10 L145.84 1127.85 L146.09 1127.60 L146.31 1127.35 L146.49 1127.10 L146.65 1126.85 L146.78 1126.60 Z" fill="#fff" stroke="#333333" stroke-width="3.80" stroke-linejoin="round"/>
<path d="M221.88 1098.20 L222.07 1098.45 L222.24 1098.70 L222.38 1098.95 L222.48 1099.20 L222.54 1099.45 L222.55 1099.70 L222.50 1099.95 L222.40 1100.20 L222.27 1100.45 L222.10 1100.70 L221.92 1100.95 L221.73 1101.20 L221.54 1101.45 L221.36 1101.70 L221.21 1101.95 L221.07 1102.20 L220.96 1102.45 L220.87 1102.70 L220.81 1102.95 L220.76 1103.20 L220.72 1103.45 L220.70 1103.70 L220.68 1103.95 L220.67 1104.20 L220.66 1104.45 L220.66 1104.70 L220.66 1104.95 L220.66 1105.20 L220.66 1105.45 L220.66 1105.70 L220.66 1105.95 L220.67 1106.20 L220.67 1106.45 L220.68 1106.70 L220.70 1106.95 L220.72 1107.20 L220.74 1107.45 L220.77 1107.70 L220.82 1107.95 L220.87 1108.20 L220.95 1108.45 L221.04 1108.70 L221.16 1108.95 L221.31 1109.20 L221.49 1109.45 L221.71 1109.70 L221.97 1109.95 L222.29 1110.20 L222.66 1110.45 L223.10 1110.70 L223.61 1110.95 L224.20 1111.20 L224.88 1111.45 L225.68 1111.70 L226.60 1111.95 L227.68 1112.20 L228.95 1112.45 L230.43 1112.70 L232.14 1112.95 L234.11 1113.20 L236.32 1113.45 L238.72 1113.70 L241.24 1113.95 L243.75 1114.20 L246.11 1114.45 L248.14 1114.70 L249.69 1114.95 L250.62 1115.20 L250.84 1115.45 L250.33 1115.70 L249.14 1115.95 L247.38 1116.20 L245.20 1116.45 L242.76 1116.70 L240.23 1116.95 L237.74 1117.20 L235.41 1117.45 L233.30 1117.70 L231.43 1117.95 L229.81 1118.20 L228.42 1118.45 L227.23 1118.70 L226.22 1118.95 L225.35 1119.20 L224.60 1119.45 L223.95 1119.70 L223.40 1119.95 L222.92 1120.20 L222.50 1120.45 L222.15 1120.70 L221.86 1120.95 L221.61 1121.20 L221.41 1121.45 L221.24 1121.70 L221.11 1121.95 L221.00 1122.20 L220.92 1122.45 L220.85 1122.70 L220.80 1122.95 L220.76 1123.20 L220.73 1123.45 L220.71 1123.70 L220.69 1123.95 L220.68 1124.20 L220.67 1124.45 L220.66 1124.70 L220.66 1124.95 L220.66 1125.20 L220.65 1125.45 L220.65 1125.70 L221.01 1125.95 L221.60 1126.20 L222.19 1126.45 L222.79 1126.70 L223.38 1126.95 L223.97 1127.20 L224.56 1127.45 L225.16 1127.70 L225.75 1127.95 L226.34 1128.20 L226.94 1128.45 L227.53 1128.70 L228.12 1128.95 L228.72 1129.20 L229.31 1129.45 L229.90 1129.70 L230.49 1129.95 L230.61 1130.20 L230.02 1130.45 L229.43 1130.70 L228.83 1130.95 L228.24 1131.20 L227.65 1131.45 L227.05 1131.70 L226.46 1131.95 L225.87 1132.20 L225.28 1132.45 L224.68 1132.70 L224.09 1132.95 L223.50 1133.20 L222.90 1133.45 L222.31 1133.70 L221.72 1133.95 L220.42 1134.20 L219.95 1134.45 L219.95 1134.45 L219.48 1134.20 L218.18 1133.95 L217.59 1133.70 L217.00 1133.45 L216.40 1133.20 L215.81 1132.95 L215.22 1132.70 L214.62 1132.45 L214.03 1132.20 L213.44 1131.95 L212.85 1131.70 L212.25 1131.45 L211.66 1131.20 L211.07 1130.95 L210.47 1130.70 L209.88 1130.45 L209.29 1130.20 L209.41 1129.95 L210.00 1129.70 L210.59 1129.45 L211.18 1129.20 L211.78 1128.95 L212.37 1128.70 L212.96 1128.45 L213.56 1128.20 L214.15 1127.95 L214.74 1127.70 L215.34 1127.45 L215.93 1127.20 L216.52 1126.95 L217.11 1126.70 L217.71 1126.45 L218.30 1126.20 L218.89 1125.95 L219.25 1125.70 L219.25 1125.45 L219.24 1125.20 L219.24 1124.95 L219.24 1124.70 L219.23 1124.45 L219.22 1124.20 L219.21 1123.95 L219.19 1123.70 L219.17 1123.45 L219.14 1123.20 L219.10 1122.95 L219.05 1122.70 L218.98 1122.45 L218.90 1122.20 L218.79 1121.95 L218.66 1121.70 L218.49 1121.45 L218.29 1121.20 L218.04 1120.95 L217.75 1120.70 L217.40 1120.45 L216.98 1120.20 L216.50 1119.95 L215.95 1119.70 L215.30 1119.45 L214.55 1119.20 L213.68 1118.95 L212.67 1118.70 L211.48 1118.45 L210.09 1118.20 L208.47 1117.95 L206.60 1117.70 L204.49 1117.45 L202.16 1117.20 L199.67 1116.95 L197.14 1116.70 L194.70 1116.45 L192.52 1116.20 L190.76 1115.95 L189.57 1115.70 L189.06 1115.45 L189.28 1115.20 L190.21 1114.95 L191.76 1114.70 L193.79 1114.45 L196.15 1114.20 L198.66 1113.95 L201.18 1113.70 L203.58 1113.45 L205.79 1113.20 L207.76 1112.95 L209.47 1112.70 L210.95 1112.45 L212.22 1112.20 L213.30 1111.95 L214.22 1111.70 L215.02 1111.45 L215.70 1111.20 L216.29 1110.95 L216.80 1110.70 L217.24 1110.45 L217.61 1110.20 L217.93 1109.95 L218.19 1109.70 L218.41 1109.45 L218.59 1109.20 L218.74 1108.95 L218.86 1108.70 L218.95 1108.45 L219.03 1108.20 L219.08 1107.95 L219.13 1107.70 L219.16 1107.45 L219.18 1107.20 L219.20 1106.95 L219.22 1106.70 L219.23 1106.45 L219.23 1106.20 L219.24 1105.95 L219.24 1105.70 L219.24 1105.45 L219.24 1105.20 L219.24 1104.95 L219.24 1104.70 L219.24 1104.45 L219.23 1104.20 L219.22 1103.95 L219.20 1103.70 L219.18 1103.45 L219.14 1103.20 L219.09 1102.95 L219.03 1102.70 L218.94 1102.45 L218.83 1102.20 L218.69 1101.95 L218.54 1101.70 L218.36 1101.45 L218.17 1101.20 L217.98 1100.95 L217.80 1100.70 L217.63 1100.45 L217.50 1100.20 L217.40 1099.95 L217.35 1099.70 L217.36 1099.45 L217.42 1099.20 L217.52 1098.95 L217.66 1098.70 L217.83 1098.45 L218.02 1098.20 Z" fill="#fff" stroke="#333333" stroke-width="3.80" stroke-linejoin="round"/>
<path d="M292.90 1070.80 L292.90 1071.05 L292.90 1071.30 L292.90 1071.55 L292.90 1071.80 L292.90 1072.05 L292.90 1072.30 L292.90 1072.55 L292.90 1072.80 L292.90 1073.05 L292.90 1073.30 L292.90 1073.55 L292.90 1073.80 L292.90 1074.05 L292.90 1074.30 L292.90 1074.55 L292.90 1074.80 L292.90 1075.05 L292.90 1075.30 L292.90 1075.55 L292.90 1075.80 L292.90 1076.05 L292.90 1076.30 L292.90 1076.55 L292.90 1076.80 L292.90 1077.05 L292.90 1077.30 L292.90 1077.55 L292.91 1077.80 L292.91 1078.05 L292.92 1078.30 L292.94 1078.55 L292.97 1078.80 L293.03 1079.05 L293.13 1079.30 L293.30 1079.55 L293.56 1079.80 L293.96 1080.05 L294.53 1080.30 L295.31 1080.55 L296.34 1080.80 L297.60 1081.05 L299.10 1081.30 L300.74 1081.55 L302.45 1081.80 L304.07 1082.05 L305.47 1082.30 L306.50 1082.55 L307.06 1082.80 L307.10 1083.05 L306.61 1083.30 L305.68 1083.55 L304.41 1083.80 L302.96 1084.05 L301.48 1084.30 L300.09 1084.55 L298.90 1084.80 L297.96 1085.05 L297.30 1085.30 L296.89 1085.55 L296.73 1085.80 L296.76 1086.05 L296.95 1086.30 L297.27 1086.55 L297.68 1086.80 L298.18 1087.05 L298.76 1087.30 L299.42 1087.55 L300.19 1087.80 L301.08 1088.05 L302.13 1088.30 L303.35 1088.55 L304.77 1088.80 L306.38 1089.05 L308.15 1089.30 L310.02 1089.55 L311.89 1089.80 L313.64 1090.05 L315.13 1090.30 L316.24 1090.55 L316.86 1090.80 L316.95 1091.05 L316.50 1091.30 L315.57 1091.55 L314.30 1091.80 L312.81 1092.05 L311.23 1092.30 L309.67 1092.55 L308.22 1092.80 L306.93 1093.05 L305.81 1093.30 L304.87 1093.55 L304.08 1093.80 L303.40 1094.05 L302.81 1094.30 L302.28 1094.55 L301.78 1094.80 L301.31 1095.05 L300.85 1095.30 L300.40 1095.55 L299.95 1095.80 L299.51 1096.05 L299.08 1096.30 L298.65 1096.55 L298.24 1096.80 L297.84 1097.05 L297.45 1097.30 L297.08 1097.55 L296.72 1097.80 L296.38 1098.05 L296.06 1098.30 L295.76 1098.55 L295.48 1098.80 L295.22 1099.05 L294.98 1099.30 L294.76 1099.55 L294.55 1099.80 L294.36 1100.05 L294.19 1100.30 L294.04 1100.55 L293.90 1100.80 L293.77 1101.05 L293.66 1101.30 L291.54 1101.30 L291.43 1101.05 L291.30 1100.80 L291.16 1100.55 L291.01 1100.30 L290.84 1100.05 L290.65 1099.80 L290.44 1099.55 L290.22 1099.30 L289.98 1099.05 L289.72 1098.80 L289.44 1098.55 L289.14 1098.30 L288.82 1098.05 L288.48 1097.80 L288.12 1097.55 L287.75 1097.30 L287.36 1097.05 L286.96 1096.80 L286.55 1096.55 L286.12 1096.30 L285.69 1096.05 L285.25 1095.80 L284.80 1095.55 L284.35 1095.30 L283.89 1095.05 L283.42 1094.80 L282.92 1094.55 L282.39 1094.30 L281.80 1094.05 L281.12 1093.80 L280.33 1093.55 L279.39 1093.30 L278.27 1093.05 L276.98 1092.80 L275.53 1092.55 L273.97 1092.30 L272.39 1092.05 L270.90 1091.80 L269.63 1091.55 L268.70 1091.30 L268.25 1091.05 L268.34 1090.80 L268.96 1090.55 L270.07 1090.30 L271.56 1090.05 L273.31 1089.80 L275.18 1089.55 L277.05 1089.30 L278.82 1089.05 L280.43 1088.80 L281.85 1088.55 L283.07 1088.30 L284.12 1088.05 L285.01 1087.80 L285.78 1087.55 L286.44 1087.30 L287.02 1087.05 L287.52 1086.80 L287.93 1086.55 L288.25 1086.30 L288.44 1086.05 L288.47 1085.80 L288.31 1085.55 L287.90 1085.30 L287.24 1085.05 L286.30 1084.80 L285.11 1084.55 L283.72 1084.30 L282.24 1084.05 L280.79 1083.80 L279.52 1083.55 L278.59 1083.30 L278.10 1083.05 L278.14 1082.80 L278.70 1082.55 L279.73 1082.30 L281.13 1082.05 L282.75 1081.80 L284.46 1081.55 L286.10 1081.30 L287.60 1081.05 L288.86 1080.80 L289.89 1080.55 L290.67 1080.30 L291.24 1080.05 L291.64 1079.80 L291.90 1079.55 L292.07 1079.30 L292.17 1079.05 L292.23 1078.80 L292.26 1078.55 L292.28 1078.30 L292.29 1078.05 L292.29 1077.80 L292.30 1077.55 L292.30 1077.30 L292.30 1077.05 L292.30 1076.80 L292.30 1076.55 L292.30 1076.30 L292.30 1076.05 L292.30 1075.80 L292.30 1075.55 L292.30 1075.30 L292.30 1075.05 L292.30 1074.80 L292.30 1074.55 L292.30 1074.30 L292.30 1074.05 L292.30 1073.80 L292.30 1073.55 L292.30 1073.30 L292.30 1073.05 L292.30 1072.80 L292.30 1072.55 L292.30 1072.30 L292.30 1072.05 L292.30 1071.80 L292.30 1071.55 L292.30 1071.30 L292.30 1071.05 L292.30 1070.80 Z" fill="#fff" stroke="#333333" stroke-width="3.80" stroke-linejoin="round"/>
<path d="M365.47 1032.20 L365.51 1032.45 L365.55 1032.70 L365.57 1032.95 L365.58 1033.20 L365.58 1033.45 L365.98 1033.70 L366.00 1033.95 L366.02 1034.20 L366.08 1034.45 L366.15 1034.70 L366.25 1034.95 L366.36 1035.20 L366.48 1035.45 L366.58 1035.70 L366.66 1035.95 L366.70 1036.20 L366.70 1036.45 L366.65 1036.70 L366.58 1036.95 L366.47 1037.20 L366.36 1037.45 L366.24 1037.70 L366.13 1037.95 L366.04 1038.20 L365.96 1038.45 L365.92 1038.70 L365.89 1038.95 L365.89 1039.20 L365.90 1039.45 L365.93 1039.70 L365.97 1039.95 L366.02 1040.20 L366.06 1040.45 L366.11 1040.70 L366.15 1040.95 L366.18 1041.20 L366.19 1041.45 L366.19 1041.70 L366.18 1041.95 L366.16 1042.20 L366.13 1042.45 L366.10 1042.70 L366.07 1042.95 L366.04 1043.20 L366.03 1043.45 L366.02 1043.70 L366.03 1043.95 L366.06 1044.20 L366.10 1044.45 L366.15 1044.70 L366.22 1044.95 L366.29 1045.20 L366.37 1045.45 L366.44 1045.70 L366.52 1045.95 L366.58 1046.20 L366.63 1046.45 L366.67 1046.70 L366.69 1046.95 L366.69 1047.20 L366.67 1047.45 L366.63 1047.70 L366.58 1047.95 L366.52 1048.20 L366.46 1048.45 L366.40 1048.70 L366.34 1048.95 L366.29 1049.20 L366.26 1049.45 L366.24 1049.70 L366.24 1049.95 L366.25 1050.20 L366.28 1050.45 L366.32 1050.70 L366.37 1050.95 L366.42 1051.20 L366.47 1051.45 L366.51 1051.70 L366.54 1051.95 L366.56 1052.20 L366.57 1052.45 L366.58 1052.70 L366.58 1052.95 L366.60 1053.20 L366.64 1053.45 L366.70 1053.70 L366.80 1053.95 L366.94 1054.20 L367.13 1054.45 L367.38 1054.70 L367.68 1054.95 L368.05 1055.20 L368.49 1055.45 L369.01 1055.70 L369.61 1055.95 L369.96 1056.20 L370.78 1056.45 L371.74 1056.70 L372.87 1056.95 L374.22 1057.20 L375.83 1057.45 L377.74 1057.70 L379.94 1057.95 L382.44 1058.20 L385.14 1058.45 L387.92 1058.70 L390.61 1058.95 L392.98 1059.20 L394.81 1059.45 L395.92 1059.70 L396.18 1059.95 L395.57 1060.20 L394.16 1060.45 L392.08 1060.70 L389.56 1060.95 L386.81 1061.20 L384.04 1061.45 L381.41 1061.70 L379.02 1061.95 L376.94 1062.20 L375.15 1062.45 L373.65 1062.70 L372.39 1062.95 L371.33 1063.20 L370.43 1063.45 L369.67 1063.70 L369.01 1063.95 L368.44 1064.20 L367.95 1064.45 L367.53 1064.70 L367.18 1064.95 L366.88 1065.20 L366.63 1065.45 L366.43 1065.70 L366.26 1065.95 L366.13 1066.20 L366.03 1066.45 L365.94 1066.70 L365.88 1066.95 L365.83 1067.20 L365.80 1067.45 L365.77 1067.70 L365.75 1067.95 L365.73 1068.20 L365.72 1068.45 L365.72 1068.70 L365.71 1068.95 L365.71 1069.20 L365.70 1069.45 L365.70 1069.70 L365.70 1069.95 L365.70 1070.20 L365.70 1070.45 L365.70 1070.70 L365.70 1070.95 L365.70 1071.20 L365.70 1071.45 L365.70 1071.70 L365.70 1071.95 L365.70 1072.20 L365.70 1072.45 L365.70 1072.70 L365.70 1072.95 L365.70 1073.20 L365.70 1073.45 L365.70 1073.70 L365.70 1073.95 L365.70 1074.20 L365.70 1074.45 L365.70 1074.70 L365.70 1074.95 L365.70 1075.20 L365.70 1075.45 L365.70 1075.70 L365.70 1075.95 L365.70 1076.20 L365.70 1076.45 L365.70 1076.70 L365.70 1076.95 L365.70 1077.20 L365.70 1077.45 L365.70 1077.70 L365.70 1077.95 L365.70 1078.20 L365.70 1078.45 L365.70 1078.70 L365.71 1078.95 L365.72 1079.20 L365.74 1079.45 L365.80 1079.70 L365.90 1079.95 L366.08 1080.20 L366.40 1080.45 L366.91 1080.70 L367.68 1080.95 L368.76 1081.20 L370.17 1081.45 L371.88 1081.70 L373.77 1081.95 L375.65 1082.20 L377.30 1082.45 L378.47 1082.70 L378.98 1082.95 L378.76 1083.20 L377.83 1083.45 L376.35 1083.70 L374.53 1083.95 L372.62 1084.20 L370.83 1084.45 L369.29 1084.70 L368.07 1084.95 L367.18 1085.20 L366.57 1085.45 L366.19 1085.70 L365.96 1085.95 L365.83 1086.20 L365.76 1086.45 L365.73 1086.70 L365.71 1086.95 L365.70 1087.20 L365.70 1087.45 L365.70 1087.70 L365.70 1087.95 L365.70 1088.20 L365.70 1088.45 L365.70 1088.70 L365.70 1088.95 L365.70 1089.20 L364.80 1089.20 L364.80 1088.95 L364.80 1088.70 L364.80 1088.45 L364.80 1088.20 L364.80 1087.95 L364.80 1087.70 L364.80 1087.45 L364.80 1087.20 L364.79 1086.95 L364.77 1086.70 L364.74 1086.45 L364.67 1086.20 L364.54 1085.95 L364.31 1085.70 L363.93 1085.45 L363.32 1085.20 L362.43 1084.95 L361.21 1084.70 L359.67 1084.45 L357.88 1084.20 L355.97 1083.95 L354.15 1083.70 L352.67 1083.45 L351.74 1083.20 L351.52 1082.95 L352.03 1082.70 L353.20 1082.45 L354.85 1082.20 L356.73 1081.95 L358.62 1081.70 L360.33 1081.45 L361.74 1081.20 L362.82 1080.95 L363.59 1080.70 L364.10 1080.45 L364.42 1080.20 L364.60 1079.95 L364.70 1079.70 L364.76 1079.45 L364.78 1079.20 L364.79 1078.95 L364.80 1078.70 L364.80 1078.45 L364.80 1078.20 L364.80 1077.95 L364.80 1077.70 L364.80 1077.45 L364.80 1077.20 L364.80 1076.95 L364.80 1076.70 L364.80 1076.45 L364.80 1076.20 L364.80 1075.95 L364.80 1075.70 L364.80 1075.45 L364.80 1075.20 L364.80 1074.95 L364.80 1074.70 L364.80 1074.45 L364.80 1074.20 L364.80 1073.95 L364.80 1073.70 L364.80 1073.45 L364.80 1073.20 L364.80 1072.95 L364.80 1072.70 L364.80 1072.45 L364.80 1072.20 L364.80 1071.95 L364.80 1071.70 L364.80 1071.45 L364.80 1071.20 L364.80 1070.95 L364.80 1070.70 L364.80 1070.45 L364.80 1070.20 L364.80 1069.95 L364.80 1069.70 L364.80 1069.45 L364.79 1069.20 L364.79 1068.95 L364.78 1068.70 L364.78 1068.45 L364.77 1068.20 L364.75 1067.95 L364.73 1067.70 L364.70 1067.45 L364.67 1067.20 L364.62 1066.95 L364.56 1066.70 L364.47 1066.45 L364.37 1066.20 L364.24 1065.95 L364.07 1065.70 L363.87 1065.45 L363.62 1065.20 L363.32 1064.95 L362.97 1064.70 L362.55 1064.45 L362.06 1064.20 L361.49 1063.95 L360.83 1063.70 L360.07 1063.45 L359.17 1063.20 L358.11 1062.95 L356.85 1062.70 L355.35 1062.45 L353.56 1062.20 L351.48 1061.95 L349.09 1061.70 L346.46 1061.45 L343.69 1061.20 L340.94 1060.95 L338.42 1060.70 L336.34 1060.45 L334.93 1060.20 L334.32 1059.95 L334.58 1059.70 L335.69 1059.45 L337.52 1059.20 L339.89 1058.95 L342.58 1058.70 L345.36 1058.45 L348.06 1058.20 L350.56 1057.95 L352.76 1057.70 L354.67 1057.45 L356.28 1057.20 L357.63 1056.95 L358.76 1056.70 L359.72 1056.45 L360.54 1056.20 L360.89 1055.95 L361.49 1055.70 L362.01 1055.45 L362.45 1055.20 L362.82 1054.95 L363.12 1054.70 L363.37 1054.45 L363.56 1054.20 L363.70 1053.95 L363.80 1053.70 L363.86 1053.45 L363.90 1053.20 L363.92 1052.95 L363.92 1052.70 L363.93 1052.45 L363.94 1052.20 L363.96 1051.95 L363.99 1051.70 L364.03 1051.45 L364.08 1051.20 L364.13 1050.95 L364.18 1050.70 L364.22 1050.45 L364.25 1050.20 L364.26 1049.95 L364.26 1049.70 L364.24 1049.45 L364.21 1049.20 L364.16 1048.95 L364.10 1048.70 L364.04 1048.45 L363.98 1048.20 L363.92 1047.95 L363.87 1047.70 L363.83 1047.45 L363.81 1047.20 L363.81 1046.95 L363.83 1046.70 L363.87 1046.45 L363.92 1046.20 L363.98 1045.95 L364.06 1045.70 L364.13 1045.45 L364.21 1045.20 L364.28 1044.95 L364.35 1044.70 L364.40 1044.45 L364.44 1044.20 L364.47 1043.95 L364.48 1043.70 L364.47 1043.45 L364.46 1043.20 L364.43 1042.95 L364.40 1042.70 L364.37 1042.45 L364.34 1042.20 L364.32 1041.95 L364.31 1041.70 L364.31 1041.45 L364.32 1041.20 L364.35 1040.95 L364.39 1040.70 L364.44 1040.45 L364.48 1040.20 L364.53 1039.95 L364.57 1039.70 L364.60 1039.45 L364.61 1039.20 L364.61 1038.95 L364.58 1038.70 L364.54 1038.45 L364.46 1038.20 L364.37 1037.95 L364.26 1037.70 L364.14 1037.45 L364.03 1037.20 L363.92 1036.95 L363.85 1036.70 L363.80 1036.45 L363.80 1036.20 L363.84 1035.95 L363.92 1035.70 L364.02 1035.45 L364.14 1035.20 L364.25 1034.95 L364.35 1034.70 L364.42 1034.45 L364.48 1034.20 L364.50 1033.95 L364.52 1033.70 L364.92 1033.45 L364.92 1033.20 L364.93 1032.95 L364.95 1032.70 L364.99 1032.45 L365.03 1032.20 Z" fill="#fff" stroke="#333333" stroke-width="3.80" stroke-linejoin="round"/>
<path d="M441.55 982.40 L441.48 982.65 L441.28 982.90 L440.96 983.15 L440.58 983.40 L440.17 983.65 L439.76 983.90 L439.39 984.15 L439.07 984.40 L438.82 984.65 L438.63 984.90 L438.49 985.15 L438.39 985.40 L438.33 985.65 L438.30 985.90 L438.27 986.15 L438.26 986.40 L438.26 986.65 L438.25 986.90 L438.25 987.15 L438.25 987.40 L438.25 987.65 L438.25 987.90 L438.25 988.15 L438.25 988.40 L438.25 988.65 L438.25 988.90 L438.25 989.15 L438.25 989.40 L438.25 989.65 L438.25 989.90 L438.25 990.15 L438.25 990.40 L438.25 990.65 L438.25 990.90 L438.25 991.15 L438.25 991.40 L438.25 991.65 L438.25 991.90 L438.25 992.15 L438.25 992.40 L438.25 992.65 L438.25 992.90 L438.25 993.15 L438.25 993.40 L438.25 993.65 L438.25 993.90 L438.25 994.15 L438.25 994.40 L438.25 994.65 L438.25 994.90 L438.25 995.15 L438.25 995.40 L438.25 995.65 L438.25 995.90 L438.25 996.15 L438.25 996.40 L438.25 996.65 L438.25 996.90 L438.25 997.15 L438.25 997.40 L438.25 997.65 L438.25 997.90 L438.25 998.15 L438.25 998.40 L438.25 998.65 L438.25 998.90 L438.25 999.15 L438.25 999.40 L438.25 999.65 L438.25 999.90 L438.25 1000.15 L438.25 1000.40 L438.25 1000.65 L438.25 1000.90 L438.25 1001.15 L438.25 1001.40 L438.25 1001.65 L438.25 1001.90 L438.25 1002.15 L438.25 1002.40 L438.25 1002.65 L438.25 1002.90 L438.25 1003.15 L438.25 1003.40 L438.25 1003.65 L438.25 1003.90 L438.25 1004.15 L438.25 1004.40 L438.25 1004.65 L438.25 1004.90 L438.25 1005.15 L438.25 1005.40 L438.25 1005.65 L438.25 1005.90 L438.25 1006.15 L438.25 1006.40 L438.25 1006.65 L438.25 1006.90 L438.25 1007.15 L438.25 1007.40 L438.25 1007.65 L438.25 1007.90 L438.25 1008.15 L438.25 1008.40 L438.25 1008.65 L438.25 1008.90 L438.25 1009.15 L438.25 1009.40 L438.25 1009.65 L438.25 1009.90 L438.25 1010.15 L438.25 1010.40 L438.25 1010.65 L438.25 1010.90 L438.25 1011.15 L438.25 1011.40 L438.25 1011.65 L438.25 1011.90 L438.25 1012.15 L438.25 1012.40 L438.25 1012.65 L438.25 1012.90 L438.25 1013.15 L438.25 1013.40 L438.25 1013.65 L438.25 1013.90 L438.25 1014.15 L438.67 1014.40 L439.70 1014.65 L440.74 1014.90 L441.43 1015.15 L442.47 1015.40 L443.51 1015.65 L444.55 1015.90 L445.59 1016.15 L446.63 1016.40 L447.68 1016.65 L448.75 1016.90 L449.84 1017.15 L450.96 1017.40 L452.13 1017.65 L453.38 1017.90 L454.72 1018.15 L456.16 1018.40 L457.71 1018.65 L459.34 1018.90 L461.02 1019.15 L462.69 1019.40 L464.26 1019.65 L465.68 1019.90 L466.89 1020.15 L466.19 1020.40 L464.85 1020.65 L463.33 1020.90 L461.69 1021.15 L460.01 1021.40 L458.35 1021.65 L456.76 1021.90 L455.28 1022.15 L453.90 1022.40 L452.62 1022.65 L451.42 1022.90 L450.28 1023.15 L449.18 1023.40 L448.11 1023.65 L447.05 1023.90 L446.00 1024.15 L444.96 1024.40 L443.92 1024.65 L442.88 1024.90 L442.80 1025.15 L441.76 1025.40 L440.72 1025.65 L439.68 1025.90 L438.85 1026.15 L438.85 1026.40 L438.86 1026.65 L438.86 1026.90 L438.87 1027.15 L438.88 1027.40 L438.89 1027.65 L438.91 1027.90 L438.94 1028.15 L438.97 1028.40 L439.02 1028.65 L439.08 1028.90 L439.14 1029.15 L439.21 1029.40 L439.29 1029.65 L439.36 1029.90 L439.43 1030.15 L439.49 1030.40 L439.53 1030.65 L439.55 1030.90 L439.55 1031.15 L439.52 1031.40 L439.48 1031.65 L439.42 1031.90 L439.35 1032.15 L439.27 1032.40 L439.20 1032.65 L439.13 1032.90 L439.07 1033.15 L439.01 1033.40 L438.97 1033.65 L438.94 1033.90 L438.92 1034.15 L438.92 1034.40 L438.92 1034.65 L438.93 1034.90 L438.95 1035.15 L438.98 1035.40 L439.01 1035.65 L439.05 1035.90 L439.08 1036.15 L439.12 1036.40 L439.14 1036.65 L439.15 1036.90 L439.15 1037.15 L439.14 1037.40 L439.13 1037.65 L439.10 1037.90 L439.08 1038.15 L439.06 1038.40 L439.05 1038.65 L439.06 1038.90 L439.08 1039.15 L439.12 1039.40 L439.17 1039.65 L439.23 1039.90 L439.30 1040.15 L439.37 1040.40 L439.44 1040.65 L439.49 1040.90 L439.53 1041.15 L439.55 1041.40 L439.55 1041.65 L439.52 1041.90 L439.48 1042.15 L439.42 1042.40 L439.35 1042.65 L439.28 1042.90 L439.20 1043.15 L439.13 1043.40 L439.07 1043.65 L439.02 1043.90 L438.98 1044.15 L438.95 1044.40 L438.93 1044.65 L438.92 1044.90 L438.92 1045.15 L438.94 1045.40 L438.96 1045.65 L438.98 1045.90 L439.02 1046.15 L439.06 1046.40 L439.10 1046.65 L439.14 1046.90 L439.18 1047.15 L439.21 1047.40 L439.24 1047.65 L439.25 1047.90 L439.25 1048.15 L439.23 1048.40 L439.21 1048.65 L439.18 1048.90 L439.14 1049.15 L439.09 1049.40 L439.05 1049.65 L439.01 1049.90 L438.97 1050.15 L438.94 1050.40 L438.92 1050.65 L438.90 1050.90 L438.88 1051.15 L438.87 1051.40 L438.86 1051.65 L438.86 1051.90 L438.86 1052.15 L438.86 1052.40 L438.86 1052.65 L438.87 1052.90 L438.88 1053.15 L438.90 1053.40 L438.93 1053.65 L438.97 1053.90 L439.02 1054.15 L439.08 1054.40 L439.16 1054.65 L439.25 1054.90 L439.35 1055.15 L439.46 1055.40 L439.56 1055.65 L439.66 1055.90 L439.75 1056.15 L439.81 1056.40 L439.84 1056.65 L439.85 1056.90 L439.82 1057.15 L439.76 1057.40 L439.68 1057.65 L439.58 1057.90 L439.48 1058.15 L439.37 1058.40 L436.43 1058.40 L436.32 1058.15 L436.22 1057.90 L436.12 1057.65 L436.04 1057.40 L435.98 1057.15 L435.95 1056.90 L435.96 1056.65 L435.99 1056.40 L436.05 1056.15 L436.14 1055.90 L436.24 1055.65 L436.34 1055.40 L436.45 1055.15 L436.55 1054.90 L436.64 1054.65 L436.72 1054.40 L436.78 1054.15 L436.83 1053.90 L436.87 1053.65 L436.90 1053.40 L436.92 1053.15 L436.93 1052.90 L436.94 1052.65 L436.94 1052.40 L436.94 1052.15 L436.94 1051.90 L436.94 1051.65 L436.93 1051.40 L436.92 1051.15 L436.90 1050.90 L436.88 1050.65 L436.86 1050.40 L436.83 1050.15 L436.79 1049.90 L436.75 1049.65 L436.71 1049.40 L436.66 1049.15 L436.62 1048.90 L436.59 1048.65 L436.57 1048.40 L436.55 1048.15 L436.55 1047.90 L436.56 1047.65 L436.59 1047.40 L436.62 1047.15 L436.66 1046.90 L436.70 1046.65 L436.74 1046.40 L436.78 1046.15 L436.82 1045.90 L436.84 1045.65 L436.86 1045.40 L436.88 1045.15 L436.88 1044.90 L436.87 1044.65 L436.85 1044.40 L436.82 1044.15 L436.78 1043.90 L436.73 1043.65 L436.67 1043.40 L436.60 1043.15 L436.52 1042.90 L436.45 1042.65 L436.38 1042.40 L436.32 1042.15 L436.28 1041.90 L436.25 1041.65 L436.25 1041.40 L436.27 1041.15 L436.31 1040.90 L436.36 1040.65 L436.43 1040.40 L436.50 1040.15 L436.57 1039.90 L436.63 1039.65 L436.68 1039.40 L436.72 1039.15 L436.74 1038.90 L436.75 1038.65 L436.74 1038.40 L436.72 1038.15 L436.70 1037.90 L436.67 1037.65 L436.66 1037.40 L436.65 1037.15 L436.65 1036.90 L436.66 1036.65 L436.68 1036.40 L436.72 1036.15 L436.75 1035.90 L436.79 1035.65 L436.82 1035.40 L436.85 1035.15 L436.87 1034.90 L436.88 1034.65 L436.88 1034.40 L436.88 1034.15 L436.86 1033.90 L436.83 1033.65 L436.79 1033.40 L436.73 1033.15 L436.67 1032.90 L436.60 1032.65 L436.53 1032.40 L436.45 1032.15 L436.38 1031.90 L436.32 1031.65 L436.28 1031.40 L436.25 1031.15 L436.25 1030.90 L436.27 1030.65 L436.31 1030.40 L436.37 1030.15 L436.44 1029.90 L436.51 1029.65 L436.59 1029.40 L436.66 1029.15 L436.72 1028.90 L436.78 1028.65 L436.83 1028.40 L436.86 1028.15 L436.89 1027.90 L436.91 1027.65 L436.92 1027.40 L436.93 1027.15 L436.94 1026.90 L436.94 1026.65 L436.95 1026.40 L436.95 1026.15 L436.12 1025.90 L435.08 1025.65 L434.04 1025.40 L433.00 1025.15 L432.92 1024.90 L431.88 1024.65 L430.84 1024.40 L429.80 1024.15 L428.75 1023.90 L427.69 1023.65 L426.62 1023.40 L425.52 1023.15 L424.38 1022.90 L423.18 1022.65 L421.90 1022.40 L420.52 1022.15 L419.04 1021.90 L417.45 1021.65 L415.79 1021.40 L414.11 1021.15 L412.47 1020.90 L410.95 1020.65 L409.61 1020.40 L408.91 1020.15 L410.12 1019.90 L411.54 1019.65 L413.11 1019.40 L414.78 1019.15 L416.46 1018.90 L418.09 1018.65 L419.64 1018.40 L421.08 1018.15 L422.42 1017.90 L423.67 1017.65 L424.84 1017.40 L425.96 1017.15 L427.05 1016.90 L428.12 1016.65 L429.17 1016.40 L430.21 1016.15 L431.25 1015.90 L432.29 1015.65 L433.33 1015.40 L434.37 1015.15 L435.06 1014.90 L436.10 1014.65 L437.13 1014.40 L437.55 1014.15 L437.55 1013.90 L437.55 1013.65 L437.55 1013.40 L437.55 1013.15 L437.55 1012.90 L437.55 1012.65 L437.55 1012.40 L437.55 1012.15 L437.55 1011.90 L437.55 1011.65 L437.55 1011.40 L437.55 1011.15 L437.55 1010.90 L437.55 1010.65 L437.55 1010.40 L437.55 1010.15 L437.55 1009.90 L437.55 1009.65 L437.55 1009.40 L437.55 1009.15 L437.55 1008.90 L437.55 1008.65 L437.55 1008.40 L437.55 1008.15 L437.55 1007.90 L437.55 1007.65 L437.55 1007.40 L437.55 1007.15 L437.55 1006.90 L437.55 1006.65 L437.55 1006.40 L437.55 1006.15 L437.55 1005.90 L437.55 1005.65 L437.55 1005.40 L437.55 1005.15 L437.55 1004.90 L437.55 1004.65 L437.55 1004.40 L437.55 1004.15 L437.55 1003.90 L437.55 1003.65 L437.55 1003.40 L437.55 1003.15 L437.55 1002.90 L437.55 1002.65 L437.55 1002.40 L437.55 1002.15 L437.55 1001.90 L437.55 1001.65 L437.55 1001.40 L437.55 1001.15 L437.55 1000.90 L437.55 1000.65 L437.55 1000.40 L437.55 1000.15 L437.55 999.90 L437.55 999.65 L437.55 999.40 L437.55 999.15 L437.55 998.90 L437.55 998.65 L437.55 998.40 L437.55 998.15 L437.55 997.90 L437.55 997.65 L437.55 997.40 L437.55 997.15 L437.55 996.90 L437.55 996.65 L437.55 996.40 L437.55 996.15 L437.55 995.90 L437.55 995.65 L437.55 995.40 L437.55 995.15 L437.55 994.90 L437.55 994.65 L437.55 994.40 L437.55 994.15 L437.55 993.90 L437.55 993.65 L437.55 993.40 L437.55 993.15 L437.55 992.90 L437.55 992.65 L437.55 992.40 L437.55 992.15 L437.55 991.90 L437.55 991.65 L437.55 991.40 L437.55 991.15 L437.55 990.90 L437.55 990.65 L437.55 990.40 L437.55 990.15 L437.55 989.90 L437.55 989.65 L437.55 989.40 L437.55 989.15 L437.55 988.90 L437.55 988.65 L437.55 988.40 L437.55 988.15 L437.55 987.90 L437.55 987.65 L437.55 987.40 L437.55 987.15 L437.55 986.90 L437.54 986.65 L437.54 986.40 L437.53 986.15 L437.50 985.90 L437.47 985.65 L437.41 985.40 L437.31 985.15 L437.17 984.90 L436.98 984.65 L436.73 984.40 L436.41 984.15 L436.04 983.90 L435.63 983.65 L435.22 983.40 L434.84 983.15 L434.52 982.90 L434.32 982.65 L434.25 982.40 Z" fill="#fff" stroke="#333333" stroke-width="3.80" stroke-linejoin="round"/>
<path d="M510.90 932.70 L510.90 932.95 L510.90 933.20 L510.90 933.45 L510.90 933.70 L510.90 933.95 L510.90 934.20 L510.90 934.45 L510.90 934.70 L510.90 934.95 L510.90 935.20 L510.90 935.45 L510.90 935.70 L510.90 935.95 L510.90 936.20 L510.90 936.45 L510.90 936.70 L510.90 936.95 L510.90 937.20 L510.90 937.45 L510.90 937.70 L510.91 937.95 L510.91 938.20 L510.92 938.45 L510.93 938.70 L510.95 938.95 L510.98 939.20 L511.01 939.45 L511.06 939.70 L511.13 939.95 L511.22 940.20 L511.32 940.45 L511.45 940.70 L511.59 940.95 L511.74 941.20 L511.90 941.45 L512.06 941.70 L512.21 941.95 L512.33 942.20 L512.43 942.45 L512.49 942.70 L512.50 942.95 L512.47 943.20 L512.40 943.45 L512.29 943.70 L512.15 943.95 L512.00 944.20 L511.84 944.45 L511.68 944.70 L511.53 944.95 L511.39 945.20 L511.28 945.45 L511.18 945.70 L511.10 945.95 L511.04 946.20 L511.00 946.45 L510.96 946.70 L510.94 946.95 L510.93 947.20 L510.92 947.45 L510.91 947.70 L510.91 947.95 L510.90 948.20 L510.90 948.45 L510.90 948.70 L510.90 948.95 L510.90 949.20 L510.90 949.45 L510.90 949.70 L510.90 949.95 L510.90 950.20 L510.90 950.45 L510.90 950.70 L510.90 950.95 L510.90 951.20 L510.90 951.45 L510.90 951.70 L510.90 951.95 L510.90 952.20 L510.90 952.45 L510.90 952.70 L510.90 952.95 L510.90 953.20 L510.90 953.45 L510.90 953.70 L510.90 953.95 L510.90 954.20 L510.90 954.45 L510.90 954.70 L510.90 954.95 L510.90 955.20 L510.90 955.45 L510.90 955.70 L510.90 955.95 L510.90 956.20 L510.90 956.45 L510.90 956.70 L510.90 956.95 L510.90 957.20 L510.90 957.45 L510.90 957.70 L510.90 957.95 L510.90 958.20 L510.90 958.45 L510.90 958.70 L510.90 958.95 L510.90 959.20 L510.90 959.45 L510.90 959.70 L510.90 959.95 L510.90 960.20 L510.90 960.45 L511.02 960.70 L511.32 960.95 L511.62 961.20 L511.92 961.45 L512.22 961.70 L512.52 961.95 L512.82 962.20 L513.12 962.45 L513.42 962.70 L513.72 962.95 L514.02 963.20 L514.32 963.45 L514.62 963.70 L514.92 963.95 L515.22 964.20 L515.53 964.45 L515.83 964.70 L516.14 964.95 L516.45 965.20 L516.77 965.45 L517.09 965.70 L517.44 965.95 L517.80 966.20 L518.20 966.45 L518.64 966.70 L519.12 966.95 L519.67 967.20 L520.29 967.45 L520.99 967.70 L521.78 967.95 L522.65 968.20 L523.60 968.45 L524.62 968.70 L525.68 968.95 L526.74 969.20 L527.78 969.45 L528.73 969.70 L529.58 969.95 L530.27 970.20 L530.78 970.45 L530.86 970.70 L530.39 970.95 L529.73 971.20 L528.91 971.45 L527.98 971.70 L526.95 971.95 L525.89 972.20 L524.83 972.45 L523.80 972.70 L522.83 972.95 L521.94 973.20 L521.14 973.45 L520.42 973.70 L519.78 973.95 L519.22 974.20 L518.73 974.45 L518.28 974.70 L517.88 974.95 L517.51 975.20 L517.16 975.45 L516.83 975.70 L516.51 975.95 L516.20 976.20 L515.89 976.45 L515.59 976.70 L515.28 976.95 L514.98 977.20 L514.68 977.45 L514.38 977.70 L514.08 977.95 L513.78 978.20 L513.49 978.45 L513.19 978.70 L512.90 978.95 L512.62 979.20 L512.35 979.45 L512.10 979.70 L511.87 979.95 L511.67 980.20 L511.52 980.45 L511.53 980.70 L511.77 980.95 L512.05 981.20 L512.37 981.45 L512.72 981.70 L513.07 981.95 L513.38 982.20 L513.64 982.45 L513.82 982.70 L513.90 982.95 L513.86 983.20 L513.73 983.45 L513.50 983.70 L513.20 983.95 L512.86 984.20 L512.51 984.45 L512.18 984.70 L511.87 984.95 L511.62 985.20 L511.41 985.45 L511.25 985.70 L511.13 985.95 L511.05 986.20 L510.99 986.45 L510.95 986.70 L510.93 986.95 L510.92 987.20 L510.91 987.45 L510.90 987.70 L510.90 987.95 L510.90 988.20 L510.90 988.45 L510.90 988.70 L510.90 988.95 L510.90 989.20 L510.90 989.45 L510.90 989.70 L510.90 989.95 L510.90 990.20 L510.90 990.45 L510.90 990.70 L510.90 990.95 L510.90 991.20 L510.90 991.45 L510.90 991.70 L510.90 991.95 L510.90 992.20 L510.90 992.45 L510.90 992.70 L510.90 992.95 L510.90 993.20 L510.90 993.45 L510.90 993.70 L510.90 993.95 L510.90 994.20 L510.90 994.45 L510.90 994.70 L510.90 994.95 L510.90 995.20 L510.90 995.45 L510.90 995.70 L510.90 995.95 L510.90 996.20 L510.90 996.45 L510.90 996.70 L510.90 996.95 L510.90 997.20 L510.90 997.45 L510.90 997.70 L510.90 997.95 L510.90 998.20 L510.90 998.45 L510.90 998.70 L510.90 998.95 L510.90 999.20 L510.90 999.45 L510.90 999.70 L510.90 999.95 L510.90 1000.20 L510.90 1000.45 L510.90 1000.70 L510.90 1000.95 L510.90 1001.20 L510.90 1001.45 L510.90 1001.70 L510.90 1001.95 L510.90 1002.20 L510.90 1002.45 L510.90 1002.70 L510.90 1002.95 L510.90 1003.20 L510.90 1003.45 L510.90 1003.70 L510.90 1003.95 L510.90 1004.20 L510.90 1004.45 L510.90 1004.70 L510.90 1004.95 L510.90 1005.20 L510.90 1005.45 L510.90 1005.70 L510.90 1005.95 L510.90 1006.20 L510.90 1006.45 L510.90 1006.70 L510.90 1006.95 L510.90 1007.20 L510.90 1007.45 L510.90 1007.70 L510.90 1007.95 L510.90 1008.20 L510.90 1008.45 L510.90 1008.70 L510.90 1008.95 L510.90 1009.20 L510.90 1009.45 L510.90 1009.70 L510.90 1009.95 L510.90 1010.20 L510.90 1010.45 L510.90 1010.70 L510.90 1010.95 L510.90 1011.20 L510.90 1011.45 L510.90 1011.70 L510.90 1011.95 L510.90 1012.20 L510.90 1012.45 L510.91 1012.70 L510.91 1012.95 L510.92 1013.20 L510.93 1013.45 L510.96 1013.70 L511.00 1013.95 L511.06 1014.20 L511.15 1014.45 L511.28 1014.70 L511.45 1014.95 L511.66 1015.20 L511.92 1015.45 L512.21 1015.70 L512.53 1015.95 L512.86 1016.20 L513.16 1016.45 L513.42 1016.70 L513.60 1016.95 L513.69 1017.20 L513.68 1017.45 L513.57 1017.70 L513.37 1017.95 L513.10 1018.20 L512.79 1018.45 L508.31 1018.45 L508.00 1018.20 L507.73 1017.95 L507.53 1017.70 L507.42 1017.45 L507.41 1017.20 L507.50 1016.95 L507.68 1016.70 L507.94 1016.45 L508.24 1016.20 L508.57 1015.95 L508.89 1015.70 L509.18 1015.45 L509.44 1015.20 L509.65 1014.95 L509.82 1014.70 L509.95 1014.45 L510.04 1014.20 L510.10 1013.95 L510.14 1013.70 L510.17 1013.45 L510.18 1013.20 L510.19 1012.95 L510.19 1012.70 L510.20 1012.45 L510.20 1012.20 L510.20 1011.95 L510.20 1011.70 L510.20 1011.45 L510.20 1011.20 L510.20 1010.95 L510.20 1010.70 L510.20 1010.45 L510.20 1010.20 L510.20 1009.95 L510.20 1009.70 L510.20 1009.45 L510.20 1009.20 L510.20 1008.95 L510.20 1008.70 L510.20 1008.45 L510.20 1008.20 L510.20 1007.95 L510.20 1007.70 L510.20 1007.45 L510.20 1007.20 L510.20 1006.95 L510.20 1006.70 L510.20 1006.45 L510.20 1006.20 L510.20 1005.95 L510.20 1005.70 L510.20 1005.45 L510.20 1005.20 L510.20 1004.95 L510.20 1004.70 L510.20 1004.45 L510.20 1004.20 L510.20 1003.95 L510.20 1003.70 L510.20 1003.45 L510.20 1003.20 L510.20 1002.95 L510.20 1002.70 L510.20 1002.45 L510.20 1002.20 L510.20 1001.95 L510.20 1001.70 L510.20 1001.45 L510.20 1001.20 L510.20 1000.95 L510.20 1000.70 L510.20 1000.45 L510.20 1000.20 L510.20 999.95 L510.20 999.70 L510.20 999.45 L510.20 999.20 L510.20 998.95 L510.20 998.70 L510.20 998.45 L510.20 998.20 L510.20 997.95 L510.20 997.70 L510.20 997.45 L510.20 997.20 L510.20 996.95 L510.20 996.70 L510.20 996.45 L510.20 996.20 L510.20 995.95 L510.20 995.70 L510.20 995.45 L510.20 995.20 L510.20 994.95 L510.20 994.70 L510.20 994.45 L510.20 994.20 L510.20 993.95 L510.20 993.70 L510.20 993.45 L510.20 993.20 L510.20 992.95 L510.20 992.70 L510.20 992.45 L510.20 992.20 L510.20 991.95 L510.20 991.70 L510.20 991.45 L510.20 991.20 L510.20 990.95 L510.20 990.70 L510.20 990.45 L510.20 990.20 L510.20 989.95 L510.20 989.70 L510.20 989.45 L510.20 989.20 L510.20 988.95 L510.20 988.70 L510.20 988.45 L510.20 988.20 L510.20 987.95 L510.20 987.70 L510.19 987.45 L510.18 987.20 L510.17 986.95 L510.15 986.70 L510.11 986.45 L510.05 986.20 L509.97 985.95 L509.85 985.70 L509.69 985.45 L509.48 985.20 L509.23 984.95 L508.92 984.70 L508.59 984.45 L508.24 984.20 L507.90 983.95 L507.60 983.70 L507.37 983.45 L507.24 983.20 L507.20 982.95 L507.28 982.70 L507.46 982.45 L507.72 982.20 L508.03 981.95 L508.38 981.70 L508.73 981.45 L509.05 981.20 L509.33 980.95 L509.57 980.70 L509.58 980.45 L509.43 980.20 L509.23 979.95 L509.00 979.70 L508.75 979.45 L508.48 979.20 L508.20 978.95 L507.91 978.70 L507.61 978.45 L507.32 978.20 L507.02 977.95 L506.72 977.70 L506.42 977.45 L506.12 977.20 L505.82 976.95 L505.51 976.70 L505.21 976.45 L504.90 976.20 L504.59 975.95 L504.27 975.70 L503.94 975.45 L503.59 975.20 L503.22 974.95 L502.82 974.70 L502.37 974.45 L501.88 974.20 L501.32 973.95 L500.68 973.70 L499.96 973.45 L499.16 973.20 L498.27 972.95 L497.30 972.70 L496.27 972.45 L495.21 972.20 L494.15 971.95 L493.12 971.70 L492.19 971.45 L491.37 971.20 L490.71 970.95 L490.24 970.70 L490.32 970.45 L490.83 970.20 L491.52 969.95 L492.37 969.70 L493.32 969.45 L494.36 969.20 L495.42 968.95 L496.48 968.70 L497.50 968.45 L498.45 968.20 L499.32 967.95 L500.11 967.70 L500.81 967.45 L501.43 967.20 L501.98 966.95 L502.46 966.70 L502.90 966.45 L503.30 966.20 L503.66 965.95 L504.01 965.70 L504.33 965.45 L504.65 965.20 L504.96 964.95 L505.27 964.70 L505.57 964.45 L505.88 964.20 L506.18 963.95 L506.48 963.70 L506.78 963.45 L507.08 963.20 L507.38 962.95 L507.68 962.70 L507.98 962.45 L508.28 962.20 L508.58 961.95 L508.88 961.70 L509.18 961.45 L509.48 961.20 L509.78 960.95 L510.08 960.70 L510.20 960.45 L510.20 960.20 L510.20 959.95 L510.20 959.70 L510.20 959.45 L510.20 959.20 L510.20 958.95 L510.20 958.70 L510.20 958.45 L510.20 958.20 L510.20 957.95 L510.20 957.70 L510.20 957.45 L510.20 957.20 L510.20 956.95 L510.20 956.70 L510.20 956.45 L510.20 956.20 L510.20 955.95 L510.20 955.70 L510.20 955.45 L510.20 955.20 L510.20 954.95 L510.20 954.70 L510.20 954.45 L510.20 954.20 L510.20 953.95 L510.20 953.70 L510.20 953.45 L510.20 953.20 L510.20 952.95 L510.20 952.70 L510.20 952.45 L510.20 952.20 L510.20 951.95 L510.20 951.70 L510.20 951.45 L510.20 951.20 L510.20 950.95 L510.20 950.70 L510.20 950.45 L510.20 950.20 L510.20 949.95 L510.20 949.70 L510.20 949.45 L510.20 949.20 L510.20 948.95 L510.20 948.70 L510.20 948.45 L510.20 948.20 L510.19 947.95 L510.19 947.70 L510.18 947.45 L510.17 947.20 L510.16 946.95 L510.14 946.70 L510.10 946.45 L510.06 946.20 L510.00 945.95 L509.92 945.70 L509.82 945.45 L509.71 945.20 L509.57 944.95 L509.42 944.70 L509.26 944.45 L509.10 944.20 L508.95 943.95 L508.81 943.70 L508.70 943.45 L508.63 943.20 L508.60 942.95 L508.61 942.70 L508.67 942.45 L508.77 942.20 L508.89 941.95 L509.04 941.70 L509.20 941.45 L509.36 941.20 L509.51 940.95 L509.65 940.70 L509.78 940.45 L509.88 940.20 L509.97 939.95 L510.04 939.70 L510.09 939.45 L510.12 939.20 L510.15 938.95 L510.17 938.70 L510.18 938.45 L510.19 938.20 L510.19 937.95 L510.20 937.70 L510.20 937.45 L510.20 937.20 L510.20 936.95 L510.20 936.70 L510.20 936.45 L510.20 936.20 L510.20 935.95 L510.20 935.70 L510.20 935.45 L510.20 935.20 L510.20 934.95 L510.20 934.70 L510.20 934.45 L510.20 934.20 L510.20 933.95 L510.20 933.70 L510.20 933.45 L510.20 933.20 L510.20 932.95 L510.20 932.70 Z" fill="#fff" stroke="#333333" stroke-width="3.80" stroke-linejoin="round"/>
<path d="M583.40 848.20 L583.40 848.45 L583.40 848.70 L583.40 848.95 L583.41 849.20 L583.41 849.45 L583.41 849.70 L583.41 849.95 L583.41 850.20 L583.41 850.45 L583.41 850.70 L583.41 850.95 L583.42 851.20 L583.42 851.45 L583.42 851.70 L583.42 851.95 L583.42 852.20 L583.42 852.45 L583.42 852.70 L583.43 852.95 L583.43 853.20 L583.43 853.45 L583.43 853.70 L583.43 853.95 L583.43 854.20 L583.43 854.45 L583.44 854.70 L583.44 854.95 L583.44 855.20 L583.44 855.45 L583.44 855.70 L583.44 855.95 L583.44 856.20 L583.44 856.45 L583.45 856.70 L583.45 856.95 L583.45 857.20 L583.45 857.45 L583.45 857.70 L583.45 857.95 L583.45 858.20 L583.46 858.45 L583.46 858.70 L583.46 858.95 L583.46 859.20 L583.46 859.45 L583.46 859.70 L583.46 859.95 L583.47 860.20 L583.47 860.45 L583.47 860.70 L583.47 860.95 L583.47 861.20 L583.47 861.45 L583.47 861.70 L583.47 861.95 L583.48 862.20 L583.48 862.45 L583.48 862.70 L583.48 862.95 L583.48 863.20 L583.48 863.45 L583.48 863.70 L583.49 863.95 L583.49 864.20 L583.49 864.45 L583.49 864.70 L583.49 864.95 L583.49 865.20 L583.49 865.45 L583.50 865.70 L583.50 865.95 L583.50 866.20 L583.50 866.45 L583.50 866.70 L583.50 866.95 L583.50 867.20 L583.50 867.45 L583.51 867.70 L583.51 867.95 L583.51 868.20 L583.51 868.45 L583.51 868.70 L583.51 868.95 L583.51 869.20 L583.52 869.45 L583.52 869.70 L583.52 869.95 L583.52 870.20 L583.52 870.45 L583.52 870.70 L583.52 870.95 L583.53 871.20 L583.53 871.45 L583.53 871.70 L583.53 871.95 L583.53 872.20 L583.53 872.45 L583.53 872.70 L583.53 872.95 L583.54 873.20 L583.54 873.45 L583.54 873.70 L583.54 873.95 L583.54 874.20 L583.54 874.45 L583.54 874.70 L583.55 874.95 L583.55 875.20 L583.55 875.45 L583.55 875.70 L583.55 875.95 L583.55 876.20 L583.55 876.45 L583.55 876.70 L583.56 876.95 L583.56 877.20 L583.56 877.45 L583.56 877.70 L583.56 877.95 L583.56 878.20 L583.56 878.45 L583.57 878.70 L583.57 878.95 L583.57 879.20 L583.57 879.45 L583.57 879.70 L583.57 879.95 L583.57 880.20 L583.58 880.45 L583.58 880.70 L583.58 880.95 L583.58 881.20 L583.58 881.45 L583.58 881.70 L583.58 881.95 L583.58 882.20 L583.59 882.45 L583.59 882.70 L583.59 882.95 L583.59 883.20 L583.59 883.45 L583.59 883.70 L583.59 883.95 L583.60 884.20 L583.60 884.45 L583.60 884.70 L583.60 884.95 L583.62 885.20 L583.64 885.45 L583.66 885.70 L583.68 885.95 L583.70 886.20 L583.72 886.45 L583.74 886.70 L583.76 886.95 L583.78 887.20 L583.80 887.45 L583.83 887.70 L583.85 887.95 L583.87 888.20 L583.89 888.45 L583.91 888.70 L583.93 888.95 L583.95 889.20 L583.97 889.45 L583.99 889.70 L584.01 889.95 L584.03 890.20 L584.05 890.45 L584.08 890.70 L584.10 890.95 L584.12 891.20 L584.14 891.45 L584.16 891.70 L584.18 891.95 L584.20 892.20 L584.22 892.45 L584.24 892.70 L584.26 892.95 L584.29 893.20 L584.31 893.45 L584.33 893.70 L584.35 893.95 L584.37 894.20 L584.40 894.45 L584.42 894.70 L584.44 894.95 L584.47 895.20 L584.49 895.45 L584.51 895.70 L584.54 895.95 L584.57 896.20 L584.59 896.45 L584.62 896.70 L584.65 896.95 L584.80 897.20 L584.99 897.45 L585.17 897.70 L585.35 897.95 L585.54 898.20 L585.73 898.45 L585.93 898.70 L586.12 898.95 L586.32 899.20 L586.53 899.45 L586.74 899.70 L586.95 899.95 L587.17 900.20 L587.39 900.45 L587.62 900.70 L587.85 900.95 L588.09 901.20 L588.33 901.45 L588.58 901.70 L588.83 901.95 L589.09 902.20 L589.35 902.45 L589.62 902.70 L589.89 902.95 L590.16 903.20 L590.44 903.45 L590.72 903.70 L591.00 903.95 L591.28 904.20 L591.57 904.45 L591.85 904.70 L592.13 904.95 L592.40 905.20 L592.68 905.45 L592.94 905.70 L593.21 905.95 L593.46 906.20 L593.71 906.45 L593.95 906.70 L594.18 906.95 L594.40 907.20 L594.61 907.45 L594.80 907.70 L594.99 907.95 L595.17 908.20 L594.99 908.45 L594.80 908.70 L594.60 908.95 L594.39 909.20 L594.17 909.45 L593.94 909.70 L593.70 909.95 L593.45 910.20 L593.19 910.45 L592.93 910.70 L592.66 910.95 L592.39 911.20 L592.11 911.45 L591.83 911.70 L591.54 911.95 L591.26 912.20 L590.98 912.45 L590.69 912.70 L590.41 912.95 L590.13 913.20 L589.86 913.45 L589.58 913.70 L589.31 913.95 L589.05 914.20 L588.79 914.45 L588.54 914.70 L588.29 914.95 L588.04 915.20 L587.80 915.45 L587.57 915.70 L587.34 915.95 L587.12 916.20 L586.90 916.45 L586.69 916.70 L586.48 916.95 L586.27 917.20 L586.07 917.45 L585.87 917.70 L585.67 917.95 L585.48 918.20 L585.29 918.45 L585.10 918.70 L584.92 918.95 L584.74 919.20 L584.59 919.45 L584.58 919.70 L584.57 919.95 L584.56 920.20 L584.56 920.45 L584.55 920.70 L584.55 920.95 L584.54 921.20 L584.54 921.45 L584.54 921.70 L584.53 921.95 L584.53 922.20 L584.53 922.45 L584.53 922.70 L584.52 922.95 L584.52 923.20 L584.52 923.45 L584.52 923.70 L584.52 923.95 L584.52 924.20 L584.52 924.45 L584.52 924.70 L584.52 924.95 L584.51 925.20 L584.51 925.45 L584.51 925.70 L584.51 925.95 L584.51 926.20 L584.51 926.45 L584.51 926.70 L584.51 926.95 L584.51 927.20 L584.51 927.45 L584.51 927.70 L584.51 927.95 L584.51 928.20 L584.50 928.45 L584.50 928.70 L584.50 928.95 L584.50 929.20 L584.50 929.45 L584.50 929.70 L584.50 929.95 L584.50 930.20 L584.50 930.45 L584.50 930.70 L584.50 930.95 L584.50 931.20 L584.50 931.45 L584.50 931.70 L584.50 931.95 L584.50 932.20 L584.50 932.45 L584.50 932.70 L584.50 932.95 L584.50 933.20 L584.50 933.45 L584.50 933.70 L584.50 933.95 L584.50 934.20 L584.50 934.45 L584.50 934.70 L584.50 934.95 L584.50 935.20 L584.50 935.45 L584.50 935.70 L584.50 935.95 L584.50 936.20 L584.50 936.45 L584.50 936.70 L584.50 936.95 L584.50 937.20 L584.50 937.45 L584.50 937.70 L584.50 937.95 L584.50 938.20 L584.50 938.45 L584.50 938.70 L584.50 938.95 L584.50 939.20 L584.50 939.45 L584.50 939.70 L584.50 939.95 L584.50 940.20 L584.50 940.45 L584.50 940.70 L584.50 940.95 L584.50 941.20 L584.50 941.45 L584.50 941.70 L584.50 941.95 L584.50 942.20 L584.50 942.45 L584.50 942.70 L584.50 942.95 L584.50 943.20 L584.50 943.45 L584.50 943.70 L584.50 943.95 L584.50 944.20 L584.50 944.45 L584.50 944.70 L584.50 944.95 L584.50 945.20 L584.50 945.45 L584.50 945.70 L584.50 945.95 L584.50 946.20 L584.50 946.45 L584.50 946.70 L584.50 946.95 L584.50 947.20 L584.50 947.45 L584.50 947.70 L584.50 947.95 L584.50 948.20 L584.50 948.45 L584.50 948.70 L584.50 948.95 L584.50 949.20 L584.50 949.45 L584.50 949.70 L584.50 949.95 L584.50 950.20 L584.50 950.45 L584.50 950.70 L584.50 950.95 L584.50 951.20 L584.50 951.45 L584.50 951.70 L584.50 951.95 L584.50 952.20 L584.50 952.45 L584.50 952.70 L584.50 952.95 L584.50 953.20 L584.50 953.45 L584.50 953.70 L584.50 953.95 L584.50 954.20 L584.50 954.45 L584.50 954.70 L584.50 954.95 L584.50 955.20 L584.50 955.45 L584.50 955.70 L584.50 955.95 L584.50 956.20 L584.50 956.45 L584.50 956.70 L584.50 956.95 L584.50 957.20 L584.50 957.45 L584.50 957.70 L584.50 957.95 L584.50 958.20 L584.50 958.45 L584.50 958.70 L584.50 958.95 L584.50 959.20 L584.50 959.45 L584.50 959.70 L584.50 959.95 L584.51 960.20 L584.52 960.45 L584.54 960.70 L584.55 960.95 L584.56 961.20 L584.57 961.45 L584.59 961.70 L584.60 961.95 L584.61 962.20 L584.63 962.45 L584.64 962.70 L584.65 962.95 L584.66 963.20 L584.68 963.45 L584.69 963.70 L584.70 963.95 L584.72 964.20 L584.73 964.45 L584.74 964.70 L584.75 964.95 L584.77 965.20 L584.78 965.45 L584.79 965.70 L584.81 965.95 L584.82 966.20 L584.83 966.45 L584.84 966.70 L584.86 966.95 L584.87 967.20 L584.88 967.45 L584.89 967.70 L581.51 967.70 L581.52 967.45 L581.53 967.20 L581.54 966.95 L581.56 966.70 L581.57 966.45 L581.58 966.20 L581.59 965.95 L581.61 965.70 L581.62 965.45 L581.63 965.20 L581.65 964.95 L581.66 964.70 L581.67 964.45 L581.68 964.20 L581.70 963.95 L581.71 963.70 L581.72 963.45 L581.74 963.20 L581.75 962.95 L581.76 962.70 L581.77 962.45 L581.79 962.20 L581.80 961.95 L581.81 961.70 L581.83 961.45 L581.84 961.20 L581.85 960.95 L581.86 960.70 L581.88 960.45 L581.89 960.20 L581.90 959.95 L581.90 959.70 L581.90 959.45 L581.90 959.20 L581.90 958.95 L581.90 958.70 L581.90 958.45 L581.90 958.20 L581.90 957.95 L581.90 957.70 L581.90 957.45 L581.90 957.20 L581.90 956.95 L581.90 956.70 L581.90 956.45 L581.90 956.20 L581.90 955.95 L581.90 955.70 L581.90 955.45 L581.90 955.20 L581.90 954.95 L581.90 954.70 L581.90 954.45 L581.90 954.20 L581.90 953.95 L581.90 953.70 L581.90 953.45 L581.90 953.20 L581.90 952.95 L581.90 952.70 L581.90 952.45 L581.90 952.20 L581.90 951.95 L581.90 951.70 L581.90 951.45 L581.90 951.20 L581.90 950.95 L581.90 950.70 L581.90 950.45 L581.90 950.20 L581.90 949.95 L581.90 949.70 L581.90 949.45 L581.90 949.20 L581.90 948.95 L581.90 948.70 L581.90 948.45 L581.90 948.20 L581.90 947.95 L581.90 947.70 L581.90 947.45 L581.90 947.20 L581.90 946.95 L581.90 946.70 L581.90 946.45 L581.90 946.20 L581.90 945.95 L581.90 945.70 L581.90 945.45 L581.90 945.20 L581.90 944.95 L581.90 944.70 L581.90 944.45 L581.90 944.20 L581.90 943.95 L581.90 943.70 L581.90 943.45 L581.90 943.20 L581.90 942.95 L581.90 942.70 L581.90 942.45 L581.90 942.20 L581.90 941.95 L581.90 941.70 L581.90 941.45 L581.90 941.20 L581.90 940.95 L581.90 940.70 L581.90 940.45 L581.90 940.20 L581.90 939.95 L581.90 939.70 L581.90 939.45 L581.90 939.20 L581.90 938.95 L581.90 938.70 L581.90 938.45 L581.90 938.20 L581.90 937.95 L581.90 937.70 L581.90 937.45 L581.90 937.20 L581.90 936.95 L581.90 936.70 L581.90 936.45 L581.90 936.20 L581.90 935.95 L581.90 935.70 L581.90 935.45 L581.90 935.20 L581.90 934.95 L581.90 934.70 L581.90 934.45 L581.90 934.20 L581.90 933.95 L581.90 933.70 L581.90 933.45 L581.90 933.20 L581.90 932.95 L581.90 932.70 L581.90 932.45 L581.90 932.20 L581.90 931.95 L581.90 931.70 L581.90 931.45 L581.90 931.20 L581.90 930.95 L581.90 930.70 L581.90 930.45 L581.90 930.20 L581.90 929.95 L581.90 929.70 L581.90 929.45 L581.90 929.20 L581.90 928.95 L581.90 928.70 L581.90 928.45 L581.89 928.20 L581.89 927.95 L581.89 927.70 L581.89 927.45 L581.89 927.20 L581.89 926.95 L581.89 926.70 L581.89 926.45 L581.89 926.20 L581.89 925.95 L581.89 925.70 L581.89 925.45 L581.89 925.20 L581.88 924.95 L581.88 924.70 L581.88 924.45 L581.88 924.20 L581.88 923.95 L581.88 923.70 L581.88 923.45 L581.88 923.20 L581.88 922.95 L581.87 922.70 L581.87 922.45 L581.87 922.20 L581.87 921.95 L581.86 921.70 L581.86 921.45 L581.86 921.20 L581.85 920.95 L581.85 920.70 L581.84 920.45 L581.84 920.20 L581.83 919.95 L581.82 919.70 L581.81 919.45 L581.66 919.20 L581.48 918.95 L581.30 918.70 L581.11 918.45 L580.92 918.20 L580.73 917.95 L580.53 917.70 L580.33 917.45 L580.13 917.20 L579.92 916.95 L579.71 916.70 L579.50 916.45 L579.28 916.20 L579.06 915.95 L578.83 915.70 L578.60 915.45 L578.36 915.20 L578.11 914.95 L577.86 914.70 L577.61 914.45 L577.35 914.20 L577.09 913.95 L576.82 913.70 L576.54 913.45 L576.27 913.20 L575.99 912.95 L575.71 912.70 L575.42 912.45 L575.14 912.20 L574.86 911.95 L574.57 911.70 L574.29 911.45 L574.01 911.20 L573.74 910.95 L573.47 910.70 L573.21 910.45 L572.95 910.20 L572.70 909.95 L572.46 909.70 L572.23 909.45 L572.01 909.20 L571.80 908.95 L571.60 908.70 L571.41 908.45 L571.23 908.20 L571.41 907.95 L571.60 907.70 L571.79 907.45 L572.00 907.20 L572.22 906.95 L572.45 906.70 L572.69 906.45 L572.94 906.20 L573.19 905.95 L573.46 905.70 L573.72 905.45 L574.00 905.20 L574.27 904.95 L574.55 904.70 L574.83 904.45 L575.12 904.20 L575.40 903.95 L575.68 903.70 L575.96 903.45 L576.24 903.20 L576.51 902.95 L576.78 902.70 L577.05 902.45 L577.31 902.20 L577.57 901.95 L577.82 901.70 L578.07 901.45 L578.31 901.20 L578.55 900.95 L578.78 900.70 L579.01 900.45 L579.23 900.20 L579.45 899.95 L579.66 899.70 L579.87 899.45 L580.08 899.20 L580.28 898.95 L580.47 898.70 L580.67 898.45 L580.86 898.20 L581.05 897.95 L581.23 897.70 L581.41 897.45 L581.60 897.20 L581.75 896.95 L581.78 896.70 L581.81 896.45 L581.83 896.20 L581.86 895.95 L581.89 895.70 L581.91 895.45 L581.93 895.20 L581.96 894.95 L581.98 894.70 L582.00 894.45 L582.03 894.20 L582.05 893.95 L582.07 893.70 L582.09 893.45 L582.11 893.20 L582.14 892.95 L582.16 892.70 L582.18 892.45 L582.20 892.20 L582.22 891.95 L582.24 891.70 L582.26 891.45 L582.28 891.20 L582.30 890.95 L582.32 890.70 L582.35 890.45 L582.37 890.20 L582.39 889.95 L582.41 889.70 L582.43 889.45 L582.45 889.20 L582.47 888.95 L582.49 888.70 L582.51 888.45 L582.53 888.20 L582.55 887.95 L582.57 887.70 L582.60 887.45 L582.62 887.20 L582.64 886.95 L582.66 886.70 L582.68 886.45 L582.70 886.20 L582.72 885.95 L582.74 885.70 L582.76 885.45 L582.78 885.20 L582.80 884.95 L582.80 884.70 L582.80 884.45 L582.80 884.20 L582.81 883.95 L582.81 883.70 L582.81 883.45 L582.81 883.20 L582.81 882.95 L582.81 882.70 L582.81 882.45 L582.82 882.20 L582.82 881.95 L582.82 881.70 L582.82 881.45 L582.82 881.20 L582.82 880.95 L582.82 880.70 L582.82 880.45 L582.83 880.20 L582.83 879.95 L582.83 879.70 L582.83 879.45 L582.83 879.20 L582.83 878.95 L582.83 878.70 L582.84 878.45 L582.84 878.20 L582.84 877.95 L582.84 877.70 L582.84 877.45 L582.84 877.20 L582.84 876.95 L582.85 876.70 L582.85 876.45 L582.85 876.20 L582.85 875.95 L582.85 875.70 L582.85 875.45 L582.85 875.20 L582.85 874.95 L582.86 874.70 L582.86 874.45 L582.86 874.20 L582.86 873.95 L582.86 873.70 L582.86 873.45 L582.86 873.20 L582.87 872.95 L582.87 872.70 L582.87 872.45 L582.87 872.20 L582.87 871.95 L582.87 871.70 L582.87 871.45 L582.88 871.20 L582.88 870.95 L582.88 870.70 L582.88 870.45 L582.88 870.20 L582.88 869.95 L582.88 869.70 L582.88 869.45 L582.89 869.20 L582.89 868.95 L582.89 868.70 L582.89 868.45 L582.89 868.20 L582.89 867.95 L582.89 867.70 L582.90 867.45 L582.90 867.20 L582.90 866.95 L582.90 866.70 L582.90 866.45 L582.90 866.20 L582.90 865.95 L582.90 865.70 L582.91 865.45 L582.91 865.20 L582.91 864.95 L582.91 864.70 L582.91 864.45 L582.91 864.20 L582.91 863.95 L582.92 863.70 L582.92 863.45 L582.92 863.20 L582.92 862.95 L582.92 862.70 L582.92 862.45 L582.92 862.20 L582.93 861.95 L582.93 861.70 L582.93 861.45 L582.93 861.20 L582.93 860.95 L582.93 860.70 L582.93 860.45 L582.93 860.20 L582.94 859.95 L582.94 859.70 L582.94 859.45 L582.94 859.20 L582.94 858.95 L582.94 858.70 L582.94 858.45 L582.95 858.20 L582.95 857.95 L582.95 857.70 L582.95 857.45 L582.95 857.20 L582.95 856.95 L582.95 856.70 L582.96 856.45 L582.96 856.20 L582.96 855.95 L582.96 855.70 L582.96 855.45 L582.96 855.20 L582.96 854.95 L582.96 854.70 L582.97 854.45 L582.97 854.20 L582.97 853.95 L582.97 853.70 L582.97 853.45 L582.97 853.20 L582.97 852.95 L582.98 852.70 L582.98 852.45 L582.98 852.20 L582.98 851.95 L582.98 851.70 L582.98 851.45 L582.98 851.20 L582.99 850.95 L582.99 850.70 L582.99 850.45 L582.99 850.20 L582.99 849.95 L582.99 849.70 L582.99 849.45 L582.99 849.20 L583.00 848.95 L583.00 848.70 L583.00 848.45 L583.00 848.20 Z" fill="#fff" stroke="#333333" stroke-width="3.80" stroke-linejoin="round"/>
<text transform="translate(149.70 426.80)" font-family="'Liberation Sans', Arial, sans-serif" font-size="21.20" text-anchor="start" fill="#000" stroke="#000" stroke-width="0.30">0.07</text>
<text transform="translate(222.27 411.10)" font-family="'Liberation Sans', Arial, sans-serif" font-size="21.20" text-anchor="start" fill="#000" stroke="#000" stroke-width="0.30">0.09</text>
<text transform="translate(294.84 395.00)" font-family="'Liberation Sans', Arial, sans-serif" font-size="21.20" text-anchor="start" fill="#000" stroke="#000" stroke-width="0.30">0.11</text>
<text transform="translate(367.41 379.30)" font-family="'Liberation Sans', Arial, sans-serif" font-size="21.20" text-anchor="start" fill="#000" stroke="#000" stroke-width="0.30">0.13</text>
<text transform="translate(439.98 355.00)" font-family="'Liberation Sans', Arial, sans-serif" font-size="21.20" text-anchor="start" fill="#000" stroke="#000" stroke-width="0.30">0.16</text>
<text transform="translate(512.55 325.00)" font-family="'Liberation Sans', Arial, sans-serif" font-size="21.20" text-anchor="start" fill="#000" stroke="#000" stroke-width="0.30">0.2</text>
<text transform="translate(585.12 254.60)" font-family="'Liberation Sans', Arial, sans-serif" font-size="21.20" text-anchor="start" fill="#000" stroke="#000" stroke-width="0.30">0.29</text>
<text transform="translate(147.60 1098.40)" font-family="'Liberation Sans', Arial, sans-serif" font-size="21.20" text-anchor="middle" fill="#000" stroke="#000" stroke-width="0.30">128.2</text>
<text transform="translate(220.25 1074.40)" font-family="'Liberation Sans', Arial, sans-serif" font-size="21.20" text-anchor="middle" fill="#000" stroke="#000" stroke-width="0.30">164.5</text>
<text transform="translate(292.90 1044.60)" font-family="'Liberation Sans', Arial, sans-serif" font-size="21.20" text-anchor="middle" fill="#000" stroke="#000" stroke-width="0.30">207.9</text>
<text transform="translate(365.55 1009.30)" font-family="'Liberation Sans', Arial, sans-serif" font-size="21.20" text-anchor="middle" fill="#000" stroke="#000" stroke-width="0.30">260.2</text>
<text transform="translate(438.20 961.50)" font-family="'Liberation Sans', Arial, sans-serif" font-size="21.20" text-anchor="middle" fill="#000" stroke="#000" stroke-width="0.30">328.6</text>
<text transform="translate(510.85 903.50)" font-family="'Liberation Sans', Arial, sans-serif" font-size="21.20" text-anchor="middle" fill="#000" stroke="#000" stroke-width="0.30">413.5</text>
<text transform="translate(583.50 830.00)" font-family="'Liberation Sans', Arial, sans-serif" font-size="21.20" text-anchor="middle" fill="#000" stroke="#000" stroke-width="0.30">520.3</text>
</svg>
</body></html>
